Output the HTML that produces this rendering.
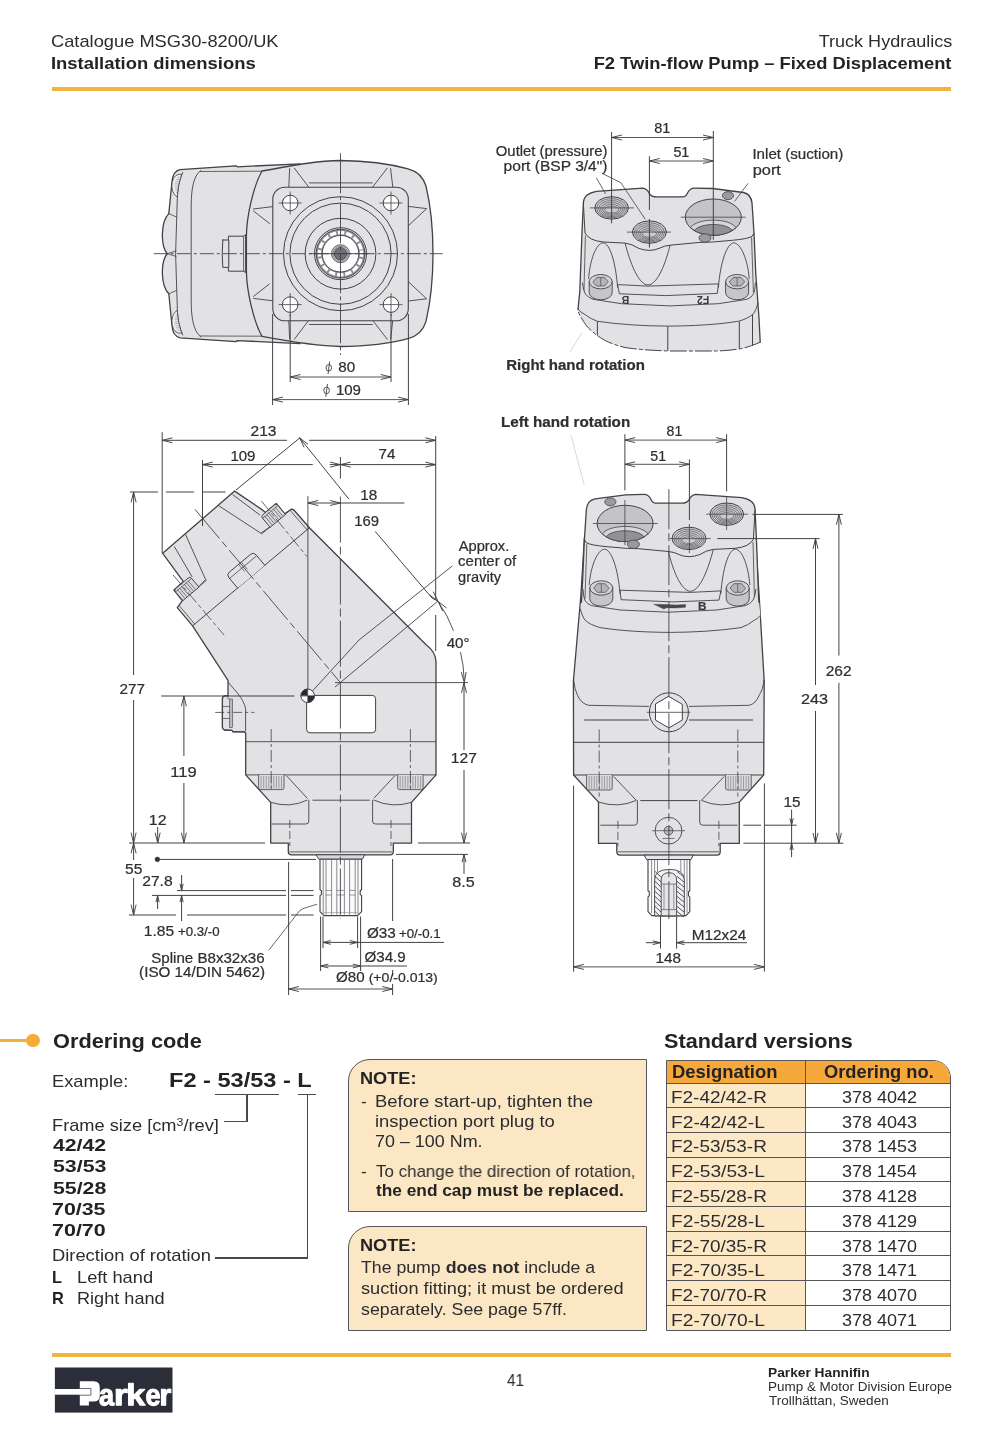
<!DOCTYPE html>
<html><head><meta charset="utf-8"><title>F2 Twin-flow Pump - Installation dimensions</title>
<style>
html,body{margin:0;padding:0;background:#fff;}
body{width:1000px;height:1452px;position:relative;overflow:hidden;font-family:"Liberation Sans",sans-serif;color:#2c2c2f;}
.t{position:absolute;white-space:nowrap;line-height:1;will-change:transform;}
.b{font-weight:bold;color:#232326;}
.rule{position:absolute;left:52px;width:899px;height:4px;background:#efb540;}
#draw{position:absolute;left:0;top:0;will-change:transform;}
.ln{position:absolute;background:#4a4a4d;}
.note{position:absolute;background:#fbe7c4;border:1.5px solid #55555a;border-radius:22px 0 0 0;box-sizing:border-box;}
</style></head><body>
<!-- HEADER -->
<div class="t" style="top:33.47px;font-size:16.1px;left:51.37px;transform-origin:0 0;transform:scaleX(1.1355);">Catalogue MSG30-8200/UK</div>
<div class="t b" style="top:54.87px;font-size:16.1px;left:51.07px;transform-origin:0 0;transform:scaleX(1.1446);">Installation dimensions</div>
<div class="t" style="top:33.47px;font-size:16.1px;right:47.85px;transform-origin:100% 0;transform:scaleX(1.1197);">Truck Hydraulics</div>
<div class="t b" style="top:54.87px;font-size:16.1px;right:48.28px;transform-origin:100% 0;transform:scaleX(1.1378);">F2 Twin-flow Pump – Fixed Displacement</div>
<div class="rule" style="top:86.7px;"></div>
<svg id="draw" width="1000" height="1452" viewBox="0 0 1000 1452" font-family="Liberation Sans, sans-serif">
<g id="front-view">
<path d="M180 169.6 Q173 171 172 181.6 L168.8 213.6 C160.5 222 160.5 246 167.2 253.7 C160.5 261.4 160.5 285.4 168.8 293.8 L172 325.8 Q173 336.4 180 337.8 L236 341.6 L237.5 340.6 L300 343.6 L300 163.8 L237.5 166.8 L236 165.8 Z" fill="#e2e2e5" stroke="#424247" stroke-width="1.3" stroke-linejoin="round" stroke-linecap="round"/>
<path d="M262 171 C300 164 320 160.8 340.5 160.5 C365 160.8 392 164.5 408 168.8 Q422 172.5 426 186 C430.5 205 433 230 433 253.7 C433 277 430.5 302 426 321.4 Q422 335 408 338.6 C392 343 365 346.2 340.5 346.5 C320 346.2 300 343.5 262 336.4 C253 320 246.6 290 246.4 271 L246.4 236 C246.6 217 253 187 262 171 Z" fill="#e2e2e5" stroke="#424247" stroke-width="1.3" stroke-linejoin="round" stroke-linecap="round"/>
<path d="M182.7 172.4 C179 180 177.4 190 177.3 199.2 L175.6 253.7 L177.3 308.2 C177.4 317.4 179 327.4 182.7 335" fill="none" stroke="#424247" stroke-width="0.9" stroke-linejoin="round" stroke-linecap="round"/>
<path d="M200.8 170.5 C193 176 191.4 190 191.2 205 L191.2 302 C191.4 317 193 331 200.8 336.9" fill="none" stroke="#424247" stroke-width="0.9" stroke-linejoin="round" stroke-linecap="round"/>
<path d="M200 171.5 L262 171.2 M200 336 L262 336.2" fill="none" stroke="#424247" stroke-width="0.8" stroke-linejoin="round" stroke-linecap="round"/>
<path d="M168.8 213.6 L176.5 217 M168.8 293.8 L176.5 290.4 M167.2 253.7 L176 251 M167.2 253.7 L176 256.4" fill="none" stroke="#424247" stroke-width="0.8" stroke-linejoin="round" stroke-linecap="round"/>
<path d="M181.6 174.6 A7.2 11.2 0 0 0 177.2 197 Q178 184 181.6 174.6 Z" fill="#efeff1" stroke="#424247" stroke-width="0.8" stroke-linejoin="round" stroke-linecap="round"/>
<line x1="177.2" y1="177.3" x2="180.8" y2="177.3" stroke="#6a6a70" stroke-width="0.45"/>
<line x1="175.9" y1="179.5" x2="180.3" y2="179.5" stroke="#6a6a70" stroke-width="0.45"/>
<line x1="175.2" y1="181.6" x2="179.9" y2="181.6" stroke="#6a6a70" stroke-width="0.45"/>
<line x1="174.7" y1="183.8" x2="179.5" y2="183.8" stroke="#6a6a70" stroke-width="0.45"/>
<line x1="174.6" y1="185.9" x2="179.1" y2="185.9" stroke="#6a6a70" stroke-width="0.45"/>
<line x1="174.7" y1="188.1" x2="178.7" y2="188.1" stroke="#6a6a70" stroke-width="0.45"/>
<line x1="175.1" y1="190.2" x2="178.3" y2="190.2" stroke="#6a6a70" stroke-width="0.45"/>
<line x1="175.9" y1="192.4" x2="177.9" y2="192.4" stroke="#6a6a70" stroke-width="0.45"/>
<line x1="177.1" y1="194.5" x2="177.5" y2="194.5" stroke="#6a6a70" stroke-width="0.45"/>
<g transform="translate(0 507.4) scale(1 -1)"><path d="M181.6 174.6 A7.2 11.2 0 0 0 177.2 197 Q178 184 181.6 174.6 Z" fill="#efeff1" stroke="#424247" stroke-width="0.8" stroke-linejoin="round" stroke-linecap="round"/>
<line x1="177.2" y1="177.3" x2="180.8" y2="177.3" stroke="#6a6a70" stroke-width="0.45"/>
<line x1="175.9" y1="179.5" x2="180.3" y2="179.5" stroke="#6a6a70" stroke-width="0.45"/>
<line x1="175.2" y1="181.6" x2="179.9" y2="181.6" stroke="#6a6a70" stroke-width="0.45"/>
<line x1="174.7" y1="183.8" x2="179.5" y2="183.8" stroke="#6a6a70" stroke-width="0.45"/>
<line x1="174.6" y1="185.9" x2="179.1" y2="185.9" stroke="#6a6a70" stroke-width="0.45"/>
<line x1="174.7" y1="188.1" x2="178.7" y2="188.1" stroke="#6a6a70" stroke-width="0.45"/>
<line x1="175.1" y1="190.2" x2="178.3" y2="190.2" stroke="#6a6a70" stroke-width="0.45"/>
<line x1="175.9" y1="192.4" x2="177.9" y2="192.4" stroke="#6a6a70" stroke-width="0.45"/>
<line x1="177.1" y1="194.5" x2="177.5" y2="194.5" stroke="#6a6a70" stroke-width="0.45"/>
</g>
<path d="M228.8 236.2 L244 236.2 L245.6 234.5 L245.6 272.9 L244 271.2 L228.8 271.2 Z" fill="#e2e2e5" stroke="#424247" stroke-width="1.0" stroke-linejoin="round" stroke-linecap="round"/>
<path d="M222.8 240 L228.8 240 L228.8 267.4 L222.8 267.4 Q221.6 253.7 222.8 240 Z" fill="#e2e2e5" stroke="#424247" stroke-width="1.0" stroke-linejoin="round" stroke-linecap="round"/>
<line x1="243.6" y1="236.2" x2="243.6" y2="271.2" stroke="#424247" stroke-width="0.8"/>
<path d="M253.5 209 L272.8 206.6 M253.5 211 L269.5 223.5 M253.5 298.4 L272.8 300.8 M253.5 296.4 L269.5 283.9" fill="none" stroke="#424247" stroke-width="0.9" stroke-linejoin="round" stroke-linecap="round"/>
<path d="M408.3 206.4 L426.6 208.6 L408.3 225.8 M408.3 301 L426.6 298.8 L408.3 281.6" fill="none" stroke="#424247" stroke-width="0.9" stroke-linejoin="round" stroke-linecap="round"/>
<path d="M289.6 168.6 L288.8 187.2 M294.4 168.2 L308.8 187.2 M309.5 182.9 L372.3 182.9 M387.2 168.2 L372.5 187.2 M390.6 168.6 L392.8 187.2" fill="none" stroke="#424247" stroke-width="0.9" stroke-linejoin="round" stroke-linecap="round"/>
<path d="M289.6 338.8 L288.8 320.2 M294.4 339.2 L308.8 320.2 M309.5 324.5 L372.3 324.5 M387.2 339.2 L372.5 320.2 M390.6 338.8 L392.8 320.2" fill="none" stroke="#424247" stroke-width="0.9" stroke-linejoin="round" stroke-linecap="round"/>
<rect x="272.8" y="187.2" width="135.5" height="133.6" rx="12" ry="12" fill="#e2e2e5" stroke="#424247" stroke-width="1.1"/>
<circle cx="340.5" cy="253.7" r="57.0" fill="none" stroke="#424247" stroke-width="1.0"/>
<circle cx="340.5" cy="253.7" r="50.6" fill="none" stroke="#424247" stroke-width="1.0"/>
<circle cx="340.5" cy="253.7" r="35.4" fill="none" stroke="#424247" stroke-width="1.0"/>
<circle cx="340.5" cy="253.7" r="26.0" fill="#e6e6e9" stroke="#424247" stroke-width="1.0"/>
<circle cx="340.5" cy="253.7" r="24.4" fill="#8f8f95" stroke="#424247" stroke-width="0.9"/>
<circle cx="340.5" cy="253.7" r="21.1" fill="none" stroke="#ffffff" stroke-width="3.4" stroke-dasharray="6.3 1.986" transform="rotate(-8.5 340.5 253.7)"/>
<circle cx="340.5" cy="253.7" r="18.3" fill="#ffffff" stroke="#424247" stroke-width="0.9"/>
<circle cx="340.5" cy="253.7" r="9.0" fill="#d9d9dd" stroke="#424247" stroke-width="0.8"/>
<circle cx="340.5" cy="253.7" r="7.6" fill="#e9e9ec" stroke="#424247" stroke-width="0.6"/>
<circle cx="340.5" cy="253.7" r="6.3" fill="#707076" stroke="#424247" stroke-width="0.8"/>
<circle cx="290.2" cy="203.0" r="7.8" fill="#ffffff" stroke="#424247" stroke-width="1.0"/>
<line x1="278.7" y1="203.0" x2="301.7" y2="203.0" stroke="#424247" stroke-width="0.8"/>
<line x1="290.2" y1="191.5" x2="290.2" y2="214.5" stroke="#424247" stroke-width="0.8"/>
<circle cx="391.0" cy="203.0" r="7.8" fill="#ffffff" stroke="#424247" stroke-width="1.0"/>
<line x1="379.5" y1="203.0" x2="402.5" y2="203.0" stroke="#424247" stroke-width="0.8"/>
<line x1="391.0" y1="191.5" x2="391.0" y2="214.5" stroke="#424247" stroke-width="0.8"/>
<circle cx="290.2" cy="304.6" r="7.8" fill="#ffffff" stroke="#424247" stroke-width="1.0"/>
<line x1="278.7" y1="304.6" x2="301.7" y2="304.6" stroke="#424247" stroke-width="0.8"/>
<line x1="290.2" y1="293.1" x2="290.2" y2="316.1" stroke="#424247" stroke-width="0.8"/>
<circle cx="391.0" cy="304.6" r="7.8" fill="#ffffff" stroke="#424247" stroke-width="1.0"/>
<line x1="379.5" y1="304.6" x2="402.5" y2="304.6" stroke="#424247" stroke-width="0.8"/>
<line x1="391.0" y1="293.1" x2="391.0" y2="316.1" stroke="#424247" stroke-width="0.8"/>
<line x1="153.8" y1="253.7" x2="442.6" y2="253.7" stroke="#424247" stroke-width="0.9" stroke-dasharray="14 3 3 3"/>
<line x1="309.5" y1="253.7" x2="368.5" y2="253.7" stroke="#424247" stroke-width="0.9"/>
<line x1="340.5" y1="153.3" x2="340.5" y2="355.0" stroke="#424247" stroke-width="0.9" stroke-dasharray="40 3 4 3"/>
<line x1="272.6" y1="314.0" x2="272.6" y2="405.0" stroke="#424247" stroke-width="1.0"/>
<line x1="408.4" y1="314.0" x2="408.4" y2="405.0" stroke="#424247" stroke-width="1.0"/>
<line x1="290.2" y1="314.0" x2="290.2" y2="382.0" stroke="#424247" stroke-width="1.0"/>
<line x1="391.0" y1="314.0" x2="391.0" y2="382.0" stroke="#424247" stroke-width="1.0"/>
<line x1="290.2" y1="377.0" x2="391.0" y2="377.0" stroke="#424247" stroke-width="0.9"/>
<path d="M290.2 377.0L300.5 374.5M290.2 377.0L300.5 379.5" fill="none" stroke="#424247" stroke-width="0.95"/>
<path d="M391.0 377.0L380.7 379.5M391.0 377.0L380.7 374.5" fill="none" stroke="#424247" stroke-width="0.95"/>
<line x1="272.6" y1="399.6" x2="408.4" y2="399.6" stroke="#424247" stroke-width="0.9"/>
<path d="M272.6 399.6L282.9 397.1M272.6 399.6L282.9 402.1" fill="none" stroke="#424247" stroke-width="0.95"/>
<path d="M408.4 399.6L398.1 402.1M408.4 399.6L398.1 397.1" fill="none" stroke="#424247" stroke-width="0.95"/>
<ellipse cx="328.8" cy="367.79999999999995" rx="2.8" ry="3.3" fill="none" stroke="#424247" stroke-width="0.9"/>
<line x1="328.0" y1="374.2" x2="329.7" y2="361.4" stroke="#424247" stroke-width="0.9"/>
<text x="338.3" y="372.4" font-size="14.2" textLength="16.9" lengthAdjust="spacingAndGlyphs" fill="#2f2f32" stroke="#2f2f32" stroke-width="0.22">80</text>
<ellipse cx="326.6" cy="390.4" rx="2.8" ry="3.3" fill="none" stroke="#424247" stroke-width="0.9"/>
<line x1="325.8" y1="396.8" x2="327.5" y2="384.0" stroke="#424247" stroke-width="0.9"/>
<text x="335.9" y="395.0" font-size="14.2" textLength="25.1" lengthAdjust="spacingAndGlyphs" fill="#2f2f32" stroke="#2f2f32" stroke-width="0.22">109</text>
</g>
<g id="rh-view">
<path d="M578 309.2 L579.8 291.6 L582 232 L583.4 202.4 Q584 193.6 596.6 191.4 L642.8 188.1 Q647 188.4 649.4 193.6 Q651.5 196.9 656.5 196.9 L683 196.9 Q686 196.6 687.8 192.5 Q690 188.1 694.5 188.1 L712.6 188.5 L743.4 192.5 Q751 194 752 203 L754 233.2 L755.8 274 L759 318 L760.2 342.2 C750 346.8 742 348.6 740.4 348.8 C730 350.4 720 351 714 351 L670 351 C650 350.4 636 349.2 626 347.7 C612 344.5 604 340.5 597.4 335.6 C590 330 586 326 584.2 322.4 C580.5 317 578.2 313 578 309.2Z" fill="#e2e2e5" stroke="none" stroke-width="0" stroke-linejoin="round" stroke-linecap="round"/>
<path d="M578 309.2 L579.8 291.6 L582 232 L583.4 202.4 Q584 193.6 596.6 191.4 L642.8 188.1 Q647 188.4 649.4 193.6 Q651.5 196.9 656.5 196.9 L683 196.9 Q686 196.6 687.8 192.5 Q690 188.1 694.5 188.1 L712.6 188.5 L743.4 192.5 Q751 194 752 203 L754 233.2 L755.8 274 L759 318 L760.2 342.2" fill="none" stroke="#424247" stroke-width="1.3" stroke-linejoin="round" stroke-linecap="round"/>
<path d="M760.2 342.2 C750 346.8 742 348.6 740.4 348.8 C730 350.4 720 351 714 351 L670 351 C650 350.4 636 349.2 626 347.7 C612 344.5 604 340.5 597.4 335.6 C590 330 586 326 584.2 322.4 C580.5 317 578.2 313 578 309.2" fill="none" stroke="#424247" stroke-width="1.0" stroke-linejoin="round" stroke-linecap="round" stroke-dasharray="16 3 3 3"/>
<path d="M583.4 204 L585 233 Q589 240.6 603.2 242 L625.2 243.1 Q632 244 638.4 248.2 Q644 250.4 649.4 250.4 Q655 250.4 660 248 Q664 245.8 670 245.2 L700 242.4 L712.6 242 L732.4 240.3 Q747 239 752 236.5 L754 233.2" fill="none" stroke="#424247" stroke-width="1.0" stroke-linejoin="round" stroke-linecap="round"/>
<path d="M585.4 236 L584 290 M751.6 238 L753.4 292" fill="none" stroke="#424247" stroke-width="0.8" stroke-linejoin="round" stroke-linecap="round"/>
<path d="M588.6 278.4 C590 260 596 243.4 603 242.8 C610 243.4 615.6 262 617.6 287.2" fill="none" stroke="#424247" stroke-width="0.9" stroke-linejoin="round" stroke-linecap="round"/>
<path d="M749.2 278.4 C747.8 260 741 243.4 733.8 242.8 C727 243.4 720.4 262 718.4 287.2" fill="none" stroke="#424247" stroke-width="0.9" stroke-linejoin="round" stroke-linecap="round"/>
<path d="M625.2 243.6 C630 262 638 284.4 648 285 C658 284.4 666 262 670 245.4" fill="none" stroke="#424247" stroke-width="0.9" stroke-linejoin="round" stroke-linecap="round"/>
<path d="M617.6 284.6 L648 286.1 L718.4 283.9" fill="none" stroke="#424247" stroke-width="0.9" stroke-linejoin="round" stroke-linecap="round"/>
<path d="M617.6 285 L619.4 293.8 L665.6 295.6 L717.3 293.4 L718.4 284.4" fill="none" stroke="#424247" stroke-width="0.9" stroke-linejoin="round" stroke-linecap="round"/>
<path d="M582.4 283 Q583.4 290.5 585.3 293.8 Q588 297.6 593 299.3 L621.6 303.7 L670 305.9 L718.4 303.7 L747 299.3 Q751.6 297.6 753.6 293.8 Q755 290.5 755.4 283" fill="none" stroke="#424247" stroke-width="0.9" stroke-linejoin="round" stroke-linecap="round"/>
<path d="M578 309.2 Q580.6 312.5 585.3 314.7 Q590 318.6 597.4 321.3 C620 324.6 645 326 667.8 326.1 C692 326 718 324.6 738.2 321.3 Q748.5 318.6 753.6 313.6 Q756.5 309.5 758 303" fill="none" stroke="#424247" stroke-width="0.9" stroke-linejoin="round" stroke-linecap="round"/>
<path d="M589.2 281.7 L589.2 292.6 A11.5 7.2 0 0 0 612.2 292.6 L612.2 281.7" fill="#c6c6ca" stroke="#424247" stroke-width="0.9" stroke-linejoin="round" stroke-linecap="round"/>
<ellipse cx="600.7" cy="281.7" rx="11.5" ry="7.2" fill="#d3d3d7" stroke="#424247" stroke-width="0.9"/>
<path d="M593.1 281.7 L596.8000000000001 277.4 L604.6 277.4 L608.3000000000001 281.7 L604.6 286 L596.8000000000001 286 Z" fill="#b4b4b9" stroke="#424247" stroke-width="0.7" stroke-linejoin="round" stroke-linecap="round"/>
<line x1="600.7" y1="277.4" x2="600.7" y2="286.0" stroke="#424247" stroke-width="0.6"/>
<path d="M725.6 281.7 L725.6 292.6 A11.5 7.2 0 0 0 748.6 292.6 L748.6 281.7" fill="#c6c6ca" stroke="#424247" stroke-width="0.9" stroke-linejoin="round" stroke-linecap="round"/>
<ellipse cx="737.1" cy="281.7" rx="11.5" ry="7.2" fill="#d3d3d7" stroke="#424247" stroke-width="0.9"/>
<path d="M729.5 281.7 L733.2 277.4 L741.0 277.4 L744.7 281.7 L741.0 286 L733.2 286 Z" fill="#b4b4b9" stroke="#424247" stroke-width="0.7" stroke-linejoin="round" stroke-linecap="round"/>
<line x1="737.1" y1="277.4" x2="737.1" y2="286.0" stroke="#424247" stroke-width="0.6"/>
<ellipse cx="611.6" cy="207.9" rx="16.8" ry="11.2" fill="#cbcbcf" stroke="#424247" stroke-width="1.0"/>
<ellipse cx="611.6" cy="208.24" rx="14.9" ry="9.6" fill="none" stroke="#5a5a5f" stroke-width="0.7"/>
<ellipse cx="611.6" cy="208.59" rx="12.9" ry="8.1" fill="none" stroke="#5a5a5f" stroke-width="0.7"/>
<ellipse cx="611.6" cy="208.93" rx="11.0" ry="6.5" fill="none" stroke="#5a5a5f" stroke-width="0.7"/>
<ellipse cx="611.6" cy="209.28" rx="9.1" ry="4.9" fill="none" stroke="#5a5a5f" stroke-width="0.7"/>
<ellipse cx="611.6" cy="209.62" rx="7.1" ry="3.4" fill="none" stroke="#5a5a5f" stroke-width="0.7"/>
<ellipse cx="649.4" cy="232.1" rx="17" ry="11.2" fill="#cbcbcf" stroke="#424247" stroke-width="1.0"/>
<ellipse cx="649.4" cy="232.44" rx="15.0" ry="9.6" fill="none" stroke="#5a5a5f" stroke-width="0.7"/>
<ellipse cx="649.4" cy="232.79" rx="13.1" ry="8.1" fill="none" stroke="#5a5a5f" stroke-width="0.7"/>
<ellipse cx="649.4" cy="233.13" rx="11.1" ry="6.5" fill="none" stroke="#5a5a5f" stroke-width="0.7"/>
<ellipse cx="649.4" cy="233.48" rx="9.2" ry="4.9" fill="none" stroke="#5a5a5f" stroke-width="0.7"/>
<ellipse cx="649.4" cy="233.82" rx="7.2" ry="3.4" fill="none" stroke="#5a5a5f" stroke-width="0.7"/>
<ellipse cx="713.3" cy="217.2" rx="28" ry="18.2" fill="#c3c3c8" stroke="#424247" stroke-width="1.0"/>
<path d="M690.4 227.6 C697 217.6 729 217.6 736 227.6 A28 18.2 0 0 1 690.4 227.6 Z" fill="#d6d6da" stroke="#424247" stroke-width="0.8" stroke-linejoin="round" stroke-linecap="round"/>
<path d="M694.2 230.5 C700 222.4 726.5 222.4 732.3 230.5 A28 18.2 0 0 1 694.2 230.5 Z" fill="#919197" stroke="#424247" stroke-width="0.8" stroke-linejoin="round" stroke-linecap="round"/>
<ellipse cx="728" cy="195.6" rx="5.6" ry="4" fill="#9a9aa0" stroke="#424247" stroke-width="0.8"/>
<ellipse cx="705" cy="238" rx="6" ry="4.2" fill="#9a9aa0" stroke="#424247" stroke-width="0.8"/>
<line x1="597.4" y1="321.3" x2="597.4" y2="335.6" stroke="#424247" stroke-width="1.0"/>
<line x1="667.8" y1="326.1" x2="667.8" y2="350.6" stroke="#424247" stroke-width="1.0"/>
<line x1="739.3" y1="321.3" x2="739.3" y2="348.8" stroke="#424247" stroke-width="1.0"/>
<line x1="752.5" y1="314.5" x2="752.5" y2="345.6" stroke="#424247" stroke-width="1.0"/>
<line x1="590.0" y1="207.9" x2="634.0" y2="207.9" stroke="#424247" stroke-width="0.8"/>
<line x1="627.0" y1="232.1" x2="671.0" y2="232.1" stroke="#424247" stroke-width="0.8"/>
<line x1="680.7" y1="217.2" x2="745.6" y2="217.2" stroke="#424247" stroke-width="0.8"/>
<text x="625.4" y="303.8" font-size="10.5" font-weight="bold" fill="#3a3a3e" text-anchor="middle" transform="rotate(180 625.4 299.9)">B</text>
<text x="703" y="303.8" font-size="10.5" font-weight="bold" fill="#3a3a3e" text-anchor="middle" transform="rotate(180 703 299.9)">F2</text>
<line x1="611.6" y1="132.0" x2="611.6" y2="223.3" stroke="#424247" stroke-width="1.0"/>
<line x1="649.4" y1="156.2" x2="649.4" y2="210.0" stroke="#424247" stroke-width="1.0"/>
<line x1="649.4" y1="219.0" x2="649.4" y2="247.5" stroke="#424247" stroke-width="1.0"/>
<line x1="713.3" y1="131.0" x2="713.3" y2="239.8" stroke="#424247" stroke-width="1.0"/>
<line x1="611.6" y1="137.5" x2="713.3" y2="137.5" stroke="#424247" stroke-width="0.9"/>
<path d="M611.6 137.5L621.9 135.0M611.6 137.5L621.9 140.0" fill="none" stroke="#424247" stroke-width="0.95"/>
<path d="M713.3 137.5L703.0 140.0M713.3 137.5L703.0 135.0" fill="none" stroke="#424247" stroke-width="0.95"/>
<line x1="649.4" y1="161.0" x2="713.3" y2="161.0" stroke="#424247" stroke-width="0.9"/>
<path d="M649.4 161.0L659.7 158.5M649.4 161.0L659.7 163.5" fill="none" stroke="#424247" stroke-width="0.95"/>
<path d="M713.3 161.0L703.0 163.5M713.3 161.0L703.0 158.5" fill="none" stroke="#424247" stroke-width="0.95"/>
<text x="654.3" y="133.1" font-size="14.2" textLength="16.1" lengthAdjust="spacingAndGlyphs" fill="#2f2f32" stroke="#2f2f32" stroke-width="0.22">81</text>
<text x="673.4" y="157.3" font-size="14.2" textLength="15.9" lengthAdjust="spacingAndGlyphs" fill="#2f2f32" stroke="#2f2f32" stroke-width="0.22">51</text>
<path d="M596.6 178.2 L605.4 193.6 M602.1 173.4 L620.8 182.6 L645 218.9 M747.8 183.7 L734.6 201.3" fill="none" stroke="#424247" stroke-width="0.8" stroke-linejoin="round" stroke-linecap="round"/>
<line x1="582.0" y1="332.3" x2="570.0" y2="352.0" stroke="#c9c9cc" stroke-width="0.7"/>
<text x="495.8" y="155.8" font-size="14.2" textLength="111.6" lengthAdjust="spacingAndGlyphs" fill="#2f2f32" stroke="#2f2f32" stroke-width="0.22">Outlet (pressure)</text>
<text x="503.6" y="171.2" font-size="14.2" textLength="103.9" lengthAdjust="spacingAndGlyphs" fill="#2f2f32" stroke="#2f2f32" stroke-width="0.22">port (BSP 3/4&quot;)</text>
<text x="752.4" y="158.8" font-size="14.2" textLength="90.9" lengthAdjust="spacingAndGlyphs" fill="#2f2f32" stroke="#2f2f32" stroke-width="0.22">Inlet (suction)</text>
<text x="752.7" y="174.5" font-size="14.2" textLength="28.2" lengthAdjust="spacingAndGlyphs" fill="#2f2f32" stroke="#2f2f32" stroke-width="0.22">port</text>
<text x="506.2" y="369.7" font-size="14.4" font-weight="bold" textLength="138.7" lengthAdjust="spacingAndGlyphs" fill="#2f2f32" stroke="#2f2f32" stroke-width="0.22">Right hand rotation</text>
</g>
<g id="side-view">
<path d="M162.7 553.3L234.6 491.1L262.4 509.9L265.5 512.4L276.2 503.4L284.9 513.8L289.8 510.3Q291.9 508.2 294.3 510.5L309.4 527.8L426.1 644.7Q436 652 436 662 L436 774.9 L411.5 802.4 L411.5 843.1 L393.3 843.1 L393.3 851.5 Q393.3 854.8 390 854.8 L291.6 854.8 Q288.3 854.8 288.3 851.5 L288.3 843.1 L270.7 843.1 L270.7 802.4 L245.7 774.9 L245.7 733 L244 731.8 L232.8 731.8 L232 730.4 L224.2 730 Q222.4 729.4 222.4 727 L222.4 699 Q222.4 696.2 224.5 695.8 L228 695.6 L228 680.4 L192.6 625.8L177.3 607.6L182.4 600.6L173.9 590.0L183.4 581.6Z" fill="#e2e2e5" stroke="#424247" stroke-width="1.3" stroke-linejoin="round" stroke-linecap="round"/>
<path d="M316.4 854.8 L364.8 854.8 L362.4 859.2 L319.2 859.2 Z" fill="#d9d9dd" stroke="#424247" stroke-width="1.0" stroke-linejoin="round" stroke-linecap="round"/>
<path d="M320 859.2 L361.6 859.2 L361.6 889.8 L360.2 890.8 L360.2 894.6 L361.6 895.6 L361.6 911.6 L357.6 915.6 L324 915.6 L320 911.6 L320 895.6 L321.4 894.6 L321.4 890.8 L320 889.8 Z" fill="#fbfbfc" stroke="#424247" stroke-width="1.1" stroke-linejoin="round" stroke-linecap="round"/>
<line x1="323.2" y1="859.8" x2="323.2" y2="914.6" stroke="#6c6c72" stroke-width="0.8"/>
<line x1="326.0" y1="859.8" x2="326.0" y2="914.6" stroke="#6c6c72" stroke-width="0.8"/>
<line x1="331.6" y1="859.8" x2="331.6" y2="914.6" stroke="#6c6c72" stroke-width="0.8"/>
<line x1="336.8" y1="859.8" x2="336.8" y2="914.6" stroke="#6c6c72" stroke-width="0.8"/>
<line x1="344.4" y1="859.8" x2="344.4" y2="914.6" stroke="#6c6c72" stroke-width="0.8"/>
<line x1="349.6" y1="859.8" x2="349.6" y2="914.6" stroke="#6c6c72" stroke-width="0.8"/>
<line x1="355.2" y1="859.8" x2="355.2" y2="914.6" stroke="#6c6c72" stroke-width="0.8"/>
<line x1="358.0" y1="859.8" x2="358.0" y2="914.6" stroke="#6c6c72" stroke-width="0.8"/>
<line x1="326.0" y1="890.4" x2="331.6" y2="890.4" stroke="#6c6c72" stroke-width="0.7"/>
<line x1="326.0" y1="895.0" x2="331.6" y2="895.0" stroke="#6c6c72" stroke-width="0.7"/>
<line x1="336.8" y1="890.4" x2="344.4" y2="890.4" stroke="#6c6c72" stroke-width="0.7"/>
<line x1="336.8" y1="895.0" x2="344.4" y2="895.0" stroke="#6c6c72" stroke-width="0.7"/>
<line x1="349.6" y1="890.4" x2="355.2" y2="890.4" stroke="#6c6c72" stroke-width="0.7"/>
<line x1="349.6" y1="895.0" x2="355.2" y2="895.0" stroke="#6c6c72" stroke-width="0.7"/>
<line x1="324.0" y1="912.6" x2="357.6" y2="912.6" stroke="#8a8a90" stroke-width="0.6"/>
<line x1="289.5" y1="851.9" x2="392.0" y2="851.9" stroke="#424247" stroke-width="0.8"/>
<path d="M232.9 494.8L259.6 514.8" fill="none" stroke="#424247" stroke-width="0.9" stroke-linejoin="round" stroke-linecap="round"/>
<path d="M219.2 506.0L260.8 533.2L269.7 527.2" fill="none" stroke="#424247" stroke-width="0.9" stroke-linejoin="round" stroke-linecap="round"/>
<path d="M185.7 534.8L205.6 579.5L199.4 586.2" fill="none" stroke="#424247" stroke-width="0.9" stroke-linejoin="round" stroke-linecap="round"/>
<path d="M174.5 546.8L192.0 576.7" fill="none" stroke="#424247" stroke-width="0.9" stroke-linejoin="round" stroke-linecap="round"/>
<path d="M261.5 534.0L269.9 527.0M285.2 514.2L289.8 510.3" fill="none" stroke="#424247" stroke-width="0.9" stroke-linejoin="round" stroke-linecap="round"/>
<path d="M206.3 580.4L199.4 586.2" fill="none" stroke="#424247" stroke-width="0.9" stroke-linejoin="round" stroke-linecap="round"/>
<path d="M290.6 510.9L307.0 529.8" fill="none" stroke="#424247" stroke-width="0.8" stroke-linejoin="round" stroke-linecap="round"/>
<path d="M179.6 606.1L194.7 624.1" fill="none" stroke="#424247" stroke-width="0.8" stroke-linejoin="round" stroke-linecap="round"/>
<path d="M192.6 625.8L309.4 527.8" fill="none" stroke="#424247" stroke-width="1.0" stroke-linejoin="round" stroke-linecap="round"/>
<path d="M237.6 588.1L228.9 577.7Q226.3 574.7 229.4 572.1L250.5 554.4Q253.5 551.9 256.1 554.9L264.8 565.3" fill="#e2e2e5" stroke="#424247" stroke-width="1.0" stroke-linejoin="round" stroke-linecap="round"/>
<path d="M230.3 577.9L256.0 556.3" fill="none" stroke="#424247" stroke-width="0.8" stroke-linejoin="round" stroke-linecap="round"/>
<path d="M244.4 571.3L238.6 564.4M247.1 569.0L241.3 562.1" fill="none" stroke="#424247" stroke-width="0.7" stroke-linejoin="round" stroke-linecap="round"/>
<path d="M269.9 527.0L262.5 518.2Q260.9 516.3 262.8 514.7L274.3 505.1Q276.2 503.4 277.8 505.4L285.2 514.2Z" fill="#dadade" stroke="#424247" stroke-width="1.0" stroke-linejoin="round" stroke-linecap="round"/>
<path d="M271.9 524.7L264.9 516.4" fill="none" stroke="#424247" stroke-width="0.65" stroke-linejoin="round" stroke-linecap="round"/>
<path d="M273.9 523.0L266.9 514.7" fill="none" stroke="#424247" stroke-width="0.65" stroke-linejoin="round" stroke-linecap="round"/>
<path d="M275.9 521.4L268.8 513.0" fill="none" stroke="#424247" stroke-width="0.65" stroke-linejoin="round" stroke-linecap="round"/>
<path d="M278.4 519.2L271.4 510.9" fill="none" stroke="#424247" stroke-width="0.65" stroke-linejoin="round" stroke-linecap="round"/>
<path d="M280.5 517.5L273.4 509.2" fill="none" stroke="#424247" stroke-width="0.65" stroke-linejoin="round" stroke-linecap="round"/>
<path d="M282.4 515.8L275.4 507.5" fill="none" stroke="#424247" stroke-width="0.65" stroke-linejoin="round" stroke-linecap="round"/>
<path d="M263.2 517.8L277.3 506.0" fill="none" stroke="#424247" stroke-width="0.7" stroke-linejoin="round" stroke-linecap="round"/>
<path d="M182.6 600.3L175.5 591.9Q173.9 590.0 175.8 588.4L188.1 578.1Q190.0 576.5 191.6 578.4L198.7 586.8Z" fill="#dadade" stroke="#424247" stroke-width="1.0" stroke-linejoin="round" stroke-linecap="round"/>
<path d="M184.5 598.0L177.9 590.0" fill="none" stroke="#424247" stroke-width="0.65" stroke-linejoin="round" stroke-linecap="round"/>
<path d="M186.5 596.3L179.9 588.4" fill="none" stroke="#424247" stroke-width="0.65" stroke-linejoin="round" stroke-linecap="round"/>
<path d="M188.5 594.6L181.8 586.7" fill="none" stroke="#424247" stroke-width="0.65" stroke-linejoin="round" stroke-linecap="round"/>
<path d="M191.1 592.5L184.4 584.6" fill="none" stroke="#424247" stroke-width="0.65" stroke-linejoin="round" stroke-linecap="round"/>
<path d="M193.1 590.8L186.4 582.8" fill="none" stroke="#424247" stroke-width="0.65" stroke-linejoin="round" stroke-linecap="round"/>
<path d="M195.1 589.1L188.4 581.2" fill="none" stroke="#424247" stroke-width="0.65" stroke-linejoin="round" stroke-linecap="round"/>
<path d="M176.2 591.4L191.0 579.0" fill="none" stroke="#424247" stroke-width="0.7" stroke-linejoin="round" stroke-linecap="round"/>
<path d="M228 695.6 L224.5 695.8 Q222.4 696.2 222.4 699 L222.4 727 Q222.4 729.4 224.2 730 L232 730.4 L232.8 731.8 L244 731.8 L245.7 733" fill="none" stroke="#424247" stroke-width="1.0" stroke-linejoin="round" stroke-linecap="round"/>
<path d="M228.8 682.8 C234 690 243 697 245.6 708.4 L245.6 731" fill="none" stroke="#424247" stroke-width="0.9" stroke-linejoin="round" stroke-linecap="round"/>
<rect x="229.4" y="699" width="3.2" height="28.6" fill="#b9b9be" stroke="#424247" stroke-width="0.6"/>
<path d="M222.6 706.5 L229.2 706.5 M222.6 718.5 L229.2 718.5 M228 695.6 L228 699" fill="none" stroke="#424247" stroke-width="0.7" stroke-linejoin="round" stroke-linecap="round"/>
<line x1="215.2" y1="712.4" x2="254.4" y2="712.4" stroke="#424247" stroke-width="0.8" stroke-dasharray="9 3 3 3"/>
<line x1="245.7" y1="741.7" x2="436.0" y2="741.7" stroke="#424247" stroke-width="0.9"/>
<line x1="245.7" y1="774.9" x2="436.0" y2="774.9" stroke="#424247" stroke-width="0.9"/>
<path d="M258.6 774.9 L258.6 787.5 Q258.6 789.6 260.6 789.6 L282.0 789.6 Q284.0 789.6 284.0 787.5 L284.0 774.9" fill="#dcdce0" stroke="#424247" stroke-width="0.8" stroke-linejoin="round" stroke-linecap="round"/>
<line x1="261.1" y1="776.0" x2="261.1" y2="788.6" stroke="#66666c" stroke-width="0.55"/>
<line x1="263.7" y1="776.0" x2="263.7" y2="788.6" stroke="#66666c" stroke-width="0.55"/>
<line x1="266.2" y1="776.0" x2="266.2" y2="788.6" stroke="#66666c" stroke-width="0.55"/>
<line x1="268.8" y1="776.0" x2="268.8" y2="788.6" stroke="#66666c" stroke-width="0.55"/>
<line x1="271.3" y1="776.0" x2="271.3" y2="788.6" stroke="#66666c" stroke-width="0.55"/>
<line x1="273.8" y1="776.0" x2="273.8" y2="788.6" stroke="#66666c" stroke-width="0.55"/>
<line x1="276.4" y1="776.0" x2="276.4" y2="788.6" stroke="#66666c" stroke-width="0.55"/>
<line x1="278.9" y1="776.0" x2="278.9" y2="788.6" stroke="#66666c" stroke-width="0.55"/>
<line x1="281.5" y1="776.0" x2="281.5" y2="788.6" stroke="#66666c" stroke-width="0.55"/>
<path d="M397.7 774.9 L397.7 787.5 Q397.7 789.6 399.7 789.6 L421.09999999999997 789.6 Q423.09999999999997 789.6 423.09999999999997 787.5 L423.09999999999997 774.9" fill="#dcdce0" stroke="#424247" stroke-width="0.8" stroke-linejoin="round" stroke-linecap="round"/>
<line x1="400.2" y1="776.0" x2="400.2" y2="788.6" stroke="#66666c" stroke-width="0.55"/>
<line x1="402.8" y1="776.0" x2="402.8" y2="788.6" stroke="#66666c" stroke-width="0.55"/>
<line x1="405.3" y1="776.0" x2="405.3" y2="788.6" stroke="#66666c" stroke-width="0.55"/>
<line x1="407.9" y1="776.0" x2="407.9" y2="788.6" stroke="#66666c" stroke-width="0.55"/>
<line x1="410.4" y1="776.0" x2="410.4" y2="788.6" stroke="#66666c" stroke-width="0.55"/>
<line x1="412.9" y1="776.0" x2="412.9" y2="788.6" stroke="#66666c" stroke-width="0.55"/>
<line x1="415.5" y1="776.0" x2="415.5" y2="788.6" stroke="#66666c" stroke-width="0.55"/>
<line x1="418.0" y1="776.0" x2="418.0" y2="788.6" stroke="#66666c" stroke-width="0.55"/>
<line x1="420.6" y1="776.0" x2="420.6" y2="788.6" stroke="#66666c" stroke-width="0.55"/>
<path d="M286.8 776 L307 798 M394.6 776 L374.1 798" fill="none" stroke="#424247" stroke-width="0.9" stroke-linejoin="round" stroke-linecap="round"/>
<path d="M270.7 802.4 Q290 808.5 307 800.2 M411.5 802.4 Q392 808.5 374.1 800.2" fill="none" stroke="#424247" stroke-width="0.9" stroke-linejoin="round" stroke-linecap="round"/>
<path d="M308.8 800.2 L308.8 821 Q308.8 824 305.8 824 L271.8 824 M372.6 800.2 L372.6 821 Q372.6 824 375.6 824 L410.4 824" fill="none" stroke="#424247" stroke-width="0.9" stroke-linejoin="round" stroke-linecap="round"/>
<line x1="312.5" y1="800.2" x2="369.7" y2="800.2" stroke="#424247" stroke-width="0.9"/>
<line x1="271.2" y1="729.0" x2="271.2" y2="792.0" stroke="#424247" stroke-width="0.8" stroke-dasharray="12 3 3 3"/>
<line x1="410.4" y1="729.0" x2="410.4" y2="792.0" stroke="#424247" stroke-width="0.8" stroke-dasharray="12 3 3 3"/>
<line x1="289.8" y1="820.0" x2="289.8" y2="846.0" stroke="#424247" stroke-width="0.8" stroke-dasharray="8 3"/>
<line x1="391.0" y1="820.0" x2="391.0" y2="846.0" stroke="#424247" stroke-width="0.8" stroke-dasharray="8 3"/>
<rect x="306.6" y="695.4" width="69" height="37.4" rx="3.4" fill="#ffffff" stroke="#424247" stroke-width="1.0"/>
<line x1="195.1" y1="509.5" x2="340.4" y2="682.6" stroke="#424247" stroke-width="0.9" stroke-dasharray="38 4 7 4"/>
<line x1="261.3" y1="500.9" x2="307.0" y2="556.6" stroke="#424247" stroke-width="0.8" stroke-dasharray="13 3 4 3"/>
<line x1="173.1" y1="575.0" x2="224.2" y2="635.2" stroke="#424247" stroke-width="0.8" stroke-dasharray="13 3 4 3"/>
<line x1="340.4" y1="496.6" x2="340.4" y2="919.0" stroke="#424247" stroke-width="0.9" stroke-dasharray="46 4 8 4"/>
<line x1="340.4" y1="457.0" x2="340.4" y2="478.6" stroke="#424247" stroke-width="1.0"/>
<line x1="307.9" y1="496.0" x2="307.9" y2="690.0" stroke="#424247" stroke-width="0.9"/>
<circle cx="307.7" cy="695.8" r="6.8" fill="#ffffff" stroke="#424247" stroke-width="1.0"/>
<path d="M307.7 695.8 L307.7 689 A6.8 6.8 0 0 0 300.9 695.8 Z M307.7 695.8 L307.7 702.6 A6.8 6.8 0 0 0 314.5 695.8 Z" fill="#2a2a2e" stroke="#424247" stroke-width="0.5" stroke-linejoin="round" stroke-linecap="round"/>
<path d="M312.5 691 L359 640 L452 566.2" fill="none" stroke="#424247" stroke-width="0.9" stroke-linejoin="round" stroke-linecap="round"/>
<line x1="335.0" y1="687.0" x2="438.0" y2="601.0" stroke="#424247" stroke-width="0.9"/>
<line x1="335.0" y1="682.6" x2="468.0" y2="682.6" stroke="#424247" stroke-width="0.9"/>
<path d="M438.8 602.5 A126 126 0 0 1 453.4 630.5" fill="none" stroke="#424247" stroke-width="0.9" stroke-linejoin="round" stroke-linecap="round"/>
<path d="M460.6 652.5 A126 126 0 0 1 464.2 680" fill="none" stroke="#424247" stroke-width="0.9" stroke-linejoin="round" stroke-linecap="round"/>
<path d="M438.2 601.4L446.5 608.0M438.2 601.4L442.6 611.0" fill="none" stroke="#424247" stroke-width="0.95"/>
<path d="M464.3 682.4L461.3 672.2M464.3 682.4L466.2 672.0" fill="none" stroke="#424247" stroke-width="0.95"/>
<text x="446.7" y="648.0" font-size="14.2" textLength="22.9" lengthAdjust="spacingAndGlyphs" fill="#2f2f32" stroke="#2f2f32" stroke-width="0.22">40°</text>
<line x1="162.2" y1="432.2" x2="162.2" y2="553.6" stroke="#424247" stroke-width="1.0"/>
<line x1="435.7" y1="436.0" x2="435.7" y2="600.0" stroke="#424247" stroke-width="1.0"/>
<line x1="435.7" y1="615.0" x2="435.7" y2="651.0" stroke="#424247" stroke-width="1.0"/>
<line x1="162.2" y1="440.3" x2="287.0" y2="440.3" stroke="#424247" stroke-width="1.0"/>
<line x1="309.2" y1="440.3" x2="435.7" y2="440.3" stroke="#424247" stroke-width="1.0"/>
<path d="M162.2 440.3L172.5 437.8M162.2 440.3L172.5 442.8" fill="none" stroke="#424247" stroke-width="0.95"/>
<path d="M435.7 440.3L425.4 442.8M435.7 440.3L425.4 437.8" fill="none" stroke="#424247" stroke-width="0.95"/>
<text x="250.6" y="436.3" font-size="14.2" textLength="25.9" lengthAdjust="spacingAndGlyphs" fill="#2f2f32" stroke="#2f2f32" stroke-width="0.22">213</text>
<line x1="202.5" y1="460.0" x2="202.5" y2="526.0" stroke="#424247" stroke-width="1.0"/>
<line x1="202.5" y1="464.6" x2="312.8" y2="464.6" stroke="#424247" stroke-width="1.0"/>
<line x1="329.6" y1="464.6" x2="435.7" y2="464.6" stroke="#424247" stroke-width="1.0"/>
<path d="M202.5 464.6L212.8 462.1M202.5 464.6L212.8 467.1" fill="none" stroke="#424247" stroke-width="0.95"/>
<path d="M340.4 464.6L330.1 467.1M340.4 464.6L330.1 462.1" fill="none" stroke="#424247" stroke-width="0.95"/>
<path d="M340.4 464.6L350.7 462.1M340.4 464.6L350.7 467.1" fill="none" stroke="#424247" stroke-width="0.95"/>
<path d="M435.7 464.6L425.4 467.1M435.7 464.6L425.4 462.1" fill="none" stroke="#424247" stroke-width="0.95"/>
<text x="230.4" y="461.2" font-size="14.2" textLength="25.1" lengthAdjust="spacingAndGlyphs" fill="#2f2f32" stroke="#2f2f32" stroke-width="0.22">109</text>
<text x="378.5" y="459.4" font-size="14.2" textLength="16.8" lengthAdjust="spacingAndGlyphs" fill="#2f2f32" stroke="#2f2f32" stroke-width="0.22">74</text>
<line x1="236.0" y1="490.0" x2="300.2" y2="437.6" stroke="#424247" stroke-width="1.0"/>
<line x1="299.6" y1="437.8" x2="348.8" y2="499.0" stroke="#424247" stroke-width="1.0"/>
<path d="M299.6 437.8L308.0 444.3M299.6 437.8L304.1 447.4" fill="none" stroke="#424247" stroke-width="0.95"/>
<line x1="375.2" y1="531.4" x2="432.0" y2="598.0" stroke="#424247" stroke-width="1.0"/>
<path d="M438.0 601.2L429.5 594.9M438.0 601.2L433.3 591.7" fill="none" stroke="#424247" stroke-width="0.95"/>
<line x1="432.0" y1="598.0" x2="438.0" y2="601.2" stroke="#424247" stroke-width="1.0"/>
<text x="354.2" y="526.1" font-size="14.2" textLength="24.8" lengthAdjust="spacingAndGlyphs" fill="#2f2f32" stroke="#2f2f32" stroke-width="0.22">169</text>
<line x1="307.9" y1="503.0" x2="404.4" y2="503.0" stroke="#424247" stroke-width="1.0"/>
<path d="M307.9 503.0L318.2 500.5M307.9 503.0L318.2 505.5" fill="none" stroke="#424247" stroke-width="0.95"/>
<path d="M340.4 503.0L330.1 505.5M340.4 503.0L330.1 500.5" fill="none" stroke="#424247" stroke-width="0.95"/>
<text x="360.3" y="499.5" font-size="14.2" textLength="17.0" lengthAdjust="spacingAndGlyphs" fill="#2f2f32" stroke="#2f2f32" stroke-width="0.22">18</text>
<line x1="130.0" y1="492.0" x2="158.0" y2="492.0" stroke="#424247" stroke-width="1.0"/>
<line x1="166.0" y1="492.0" x2="194.0" y2="492.0" stroke="#424247" stroke-width="1.0"/>
<line x1="202.0" y1="492.0" x2="225.6" y2="492.0" stroke="#424247" stroke-width="1.0"/>
<line x1="133.6" y1="492.0" x2="133.6" y2="675.0" stroke="#424247" stroke-width="1.0"/>
<line x1="133.6" y1="700.0" x2="133.6" y2="843.0" stroke="#424247" stroke-width="1.0"/>
<path d="M133.6 492.0L136.1 502.3M133.6 492.0L131.1 502.3" fill="none" stroke="#424247" stroke-width="0.95"/>
<path d="M133.6 843.0L131.1 832.7M133.6 843.0L136.1 832.7" fill="none" stroke="#424247" stroke-width="0.95"/>
<text x="119.6" y="693.6" font-size="14.2" textLength="25.5" lengthAdjust="spacingAndGlyphs" fill="#2f2f32" stroke="#2f2f32" stroke-width="0.22">277</text>
<line x1="161.2" y1="696.0" x2="294.4" y2="696.0" stroke="#424247" stroke-width="1.0"/>
<line x1="183.9" y1="696.0" x2="183.9" y2="756.0" stroke="#424247" stroke-width="1.0"/>
<line x1="183.9" y1="783.0" x2="183.9" y2="843.0" stroke="#424247" stroke-width="1.0"/>
<path d="M183.9 696.0L186.4 706.3M183.9 696.0L181.4 706.3" fill="none" stroke="#424247" stroke-width="0.95"/>
<path d="M183.9 843.0L181.4 832.7M183.9 843.0L186.4 832.7" fill="none" stroke="#424247" stroke-width="0.95"/>
<text x="170.3" y="776.8" font-size="14.2" textLength="26.4" lengthAdjust="spacingAndGlyphs" fill="#2f2f32" stroke="#2f2f32" stroke-width="0.22">119</text>
<line x1="157.7" y1="827.0" x2="157.7" y2="843.0" stroke="#424247" stroke-width="1.0"/>
<path d="M157.7 843.0L155.2 832.7M157.7 843.0L160.2 832.7" fill="none" stroke="#424247" stroke-width="0.95"/>
<text x="148.8" y="824.5" font-size="14.2" textLength="17.7" lengthAdjust="spacingAndGlyphs" fill="#2f2f32" stroke="#2f2f32" stroke-width="0.22">12</text>
<line x1="129.0" y1="843.0" x2="265.0" y2="843.0" stroke="#424247" stroke-width="1.0"/>
<circle cx="157.4" cy="859.4" r="2.4" fill="#2a2a2e" stroke="#424247" stroke-width="0.5"/>
<line x1="157.4" y1="859.4" x2="316.0" y2="859.4" stroke="#424247" stroke-width="1.0"/>
<line x1="133.6" y1="843.0" x2="133.6" y2="860.0" stroke="#424247" stroke-width="1.0"/>
<line x1="133.6" y1="878.0" x2="133.6" y2="915.0" stroke="#424247" stroke-width="1.0"/>
<path d="M133.6 843.0L136.1 853.3M133.6 843.0L131.1 853.3" fill="none" stroke="#424247" stroke-width="0.95"/>
<path d="M133.6 915.0L131.1 904.7M133.6 915.0L136.1 904.7" fill="none" stroke="#424247" stroke-width="0.95"/>
<text x="125.0" y="874.4" font-size="14.2" textLength="17.3" lengthAdjust="spacingAndGlyphs" fill="#2f2f32" stroke="#2f2f32" stroke-width="0.22">55</text>
<text x="142.2" y="885.6" font-size="14.2" textLength="30.5" lengthAdjust="spacingAndGlyphs" fill="#2f2f32" stroke="#2f2f32" stroke-width="0.22">27.8</text>
<line x1="177.0" y1="890.6" x2="286.0" y2="890.6" stroke="#424247" stroke-width="1.0"/>
<line x1="291.0" y1="890.6" x2="313.6" y2="890.6" stroke="#424247" stroke-width="1.0"/>
<line x1="152.0" y1="895.4" x2="286.0" y2="895.4" stroke="#424247" stroke-width="1.0"/>
<line x1="291.0" y1="895.4" x2="313.6" y2="895.4" stroke="#424247" stroke-width="1.0"/>
<line x1="181.6" y1="875.0" x2="181.6" y2="890.6" stroke="#424247" stroke-width="1.0"/>
<path d="M181.6 890.6L180.0 883.8M181.6 890.6L183.2 883.8" fill="none" stroke="#424247" stroke-width="0.95"/>
<line x1="181.6" y1="895.4" x2="181.6" y2="921.0" stroke="#424247" stroke-width="1.0"/>
<path d="M181.6 895.4L183.2 902.2M181.6 895.4L180.0 902.2" fill="none" stroke="#424247" stroke-width="0.95"/>
<line x1="157.6" y1="895.4" x2="157.6" y2="909.0" stroke="#424247" stroke-width="1.0"/>
<path d="M157.6 895.4L159.2 902.2M157.6 895.4L156.0 902.2" fill="none" stroke="#424247" stroke-width="0.95"/>
<line x1="129.0" y1="915.0" x2="176.0" y2="915.0" stroke="#424247" stroke-width="1.0"/>
<line x1="187.0" y1="915.0" x2="286.0" y2="915.0" stroke="#424247" stroke-width="1.0"/>
<line x1="291.0" y1="915.0" x2="313.6" y2="915.0" stroke="#424247" stroke-width="1.0"/>
<text x="143.8" y="936.4" font-size="14.2" textLength="30.3" lengthAdjust="spacingAndGlyphs" fill="#2f2f32" stroke="#2f2f32" stroke-width="0.22">1.85</text>
<text x="177.9" y="936.4" font-size="12.2" textLength="41.7" lengthAdjust="spacingAndGlyphs" fill="#2f2f32" stroke="#2f2f32" stroke-width="0.22">+0.3/-0</text>
<text x="151.3" y="963.0" font-size="14.2" textLength="113.3" lengthAdjust="spacingAndGlyphs" fill="#2f2f32" stroke="#2f2f32" stroke-width="0.22">Spline B8x32x36</text>
<text x="139.1" y="977.0" font-size="14.2" textLength="125.9" lengthAdjust="spacingAndGlyphs" fill="#2f2f32" stroke="#2f2f32" stroke-width="0.22">(ISO 14/DIN 5462)</text>
<path d="M316.9 904.3 L303 908.6 Q299.5 910 297 914 L269 950" fill="none" stroke="#424247" stroke-width="0.8" stroke-linejoin="round" stroke-linecap="round"/>
<line x1="418.0" y1="843.0" x2="470.0" y2="843.0" stroke="#424247" stroke-width="1.0"/>
<line x1="396.0" y1="854.4" x2="468.0" y2="854.4" stroke="#424247" stroke-width="1.0"/>
<line x1="464.0" y1="682.6" x2="464.0" y2="750.0" stroke="#424247" stroke-width="1.0"/>
<line x1="464.0" y1="770.0" x2="464.0" y2="843.0" stroke="#424247" stroke-width="1.0"/>
<path d="M464.0 682.6L466.5 692.9M464.0 682.6L461.5 692.9" fill="none" stroke="#424247" stroke-width="0.95"/>
<path d="M464.0 843.0L461.5 832.7M464.0 843.0L466.5 832.7" fill="none" stroke="#424247" stroke-width="0.95"/>
<text x="450.8" y="763.2" font-size="14.2" textLength="26.0" lengthAdjust="spacingAndGlyphs" fill="#2f2f32" stroke="#2f2f32" stroke-width="0.22">127</text>
<line x1="464.0" y1="854.4" x2="464.0" y2="874.0" stroke="#424247" stroke-width="1.0"/>
<path d="M464.0 854.4L465.9 862.2M464.0 854.4L462.1 862.2" fill="none" stroke="#424247" stroke-width="0.95"/>
<text x="452.3" y="886.6" font-size="14.2" textLength="22.4" lengthAdjust="spacingAndGlyphs" fill="#2f2f32" stroke="#2f2f32" stroke-width="0.22">8.5</text>
<line x1="288.6" y1="862.0" x2="288.6" y2="995.0" stroke="#424247" stroke-width="1.0"/>
<line x1="392.6" y1="859.0" x2="392.6" y2="921.0" stroke="#424247" stroke-width="1.0"/>
<line x1="392.6" y1="970.0" x2="392.6" y2="976.0" stroke="#424247" stroke-width="1.0"/>
<line x1="392.6" y1="984.0" x2="392.6" y2="995.0" stroke="#424247" stroke-width="1.0"/>
<line x1="323.0" y1="916.5" x2="323.0" y2="948.0" stroke="#424247" stroke-width="1.0"/>
<line x1="357.6" y1="916.5" x2="357.6" y2="948.0" stroke="#424247" stroke-width="1.0"/>
<line x1="320.6" y1="916.5" x2="320.6" y2="971.0" stroke="#424247" stroke-width="1.0"/>
<line x1="360.6" y1="916.5" x2="360.6" y2="971.0" stroke="#424247" stroke-width="1.0"/>
<line x1="323.0" y1="942.4" x2="444.0" y2="942.4" stroke="#424247" stroke-width="1.0"/>
<path d="M323.0 942.4L330.8 940.5M323.0 942.4L330.8 944.3" fill="none" stroke="#424247" stroke-width="0.95"/>
<path d="M357.6 942.4L349.8 944.3M357.6 942.4L349.8 940.5" fill="none" stroke="#424247" stroke-width="0.95"/>
<line x1="320.6" y1="966.0" x2="407.0" y2="966.0" stroke="#424247" stroke-width="1.0"/>
<path d="M320.6 966.0L328.4 964.1M320.6 966.0L328.4 967.9" fill="none" stroke="#424247" stroke-width="0.95"/>
<path d="M360.6 966.0L352.8 967.9M360.6 966.0L352.8 964.1" fill="none" stroke="#424247" stroke-width="0.95"/>
<line x1="288.6" y1="989.0" x2="392.6" y2="989.0" stroke="#424247" stroke-width="0.9"/>
<path d="M288.6 989.0L298.9 986.5M288.6 989.0L298.9 991.5" fill="none" stroke="#424247" stroke-width="0.95"/>
<path d="M392.6 989.0L382.3 991.5M392.6 989.0L382.3 986.5" fill="none" stroke="#424247" stroke-width="0.95"/>
<text x="366.9" y="938.0" font-size="14.2" textLength="28.8" lengthAdjust="spacingAndGlyphs" fill="#2f2f32" stroke="#2f2f32" stroke-width="0.22">Ø33</text>
<text x="398.9" y="938.0" font-size="12.2" textLength="41.8" lengthAdjust="spacingAndGlyphs" fill="#2f2f32" stroke="#2f2f32" stroke-width="0.22">+0/-0.1</text>
<text x="364.5" y="962.4" font-size="14.2" textLength="41.2" lengthAdjust="spacingAndGlyphs" fill="#2f2f32" stroke="#2f2f32" stroke-width="0.22">Ø34.9</text>
<text x="336.1" y="982.4" font-size="14.2" textLength="28.5" lengthAdjust="spacingAndGlyphs" fill="#2f2f32" stroke="#2f2f32" stroke-width="0.22">Ø80</text>
<text x="368.7" y="982.4" font-size="13" textLength="69.1" lengthAdjust="spacingAndGlyphs" fill="#2f2f32" stroke="#2f2f32" stroke-width="0.22">(+0/-0.013)</text>
<text x="458.7" y="550.6" font-size="14.2" textLength="50.6" lengthAdjust="spacingAndGlyphs" fill="#2f2f32" stroke="#2f2f32" stroke-width="0.22">Approx.</text>
<text x="458.1" y="566.2" font-size="14.2" textLength="58.2" lengthAdjust="spacingAndGlyphs" fill="#2f2f32" stroke="#2f2f32" stroke-width="0.22">center of</text>
<text x="458.1" y="581.8" font-size="14.2" textLength="43.1" lengthAdjust="spacingAndGlyphs" fill="#2f2f32" stroke="#2f2f32" stroke-width="0.22">gravity</text>
</g>
<g id="lh-view">
<path d="M584.4 538 L580.9 595 L573.4 681 L573.6 775 L598.5 802.1 L598.5 843.4 L616.8 843.4 L616.8 851.8 Q616.8 855.1 620 855.1 L717 855.1 Q720.2 855.1 720.2 851.8 L720.2 843.4 L739.3 843.4 L739.3 802.1 L763.7 775 L764.2 681 L759.1 595 L755.4 538 Z" fill="#e2e2e5" stroke="#424247" stroke-width="1.3" stroke-linejoin="round" stroke-linecap="round"/>
<g transform="translate(1338.4 306.3) scale(-1 1)">
<path d="M578 309.2 L579.8 291.6 L582 232 L583.4 202.4 Q584 193.6 596.6 191.4 L642.8 188.1 Q647 188.4 649.4 193.6 Q651.5 196.9 656.5 196.9 L683 196.9 Q686 196.6 687.8 192.5 Q690 188.1 694.5 188.1 L712.6 188.5 L743.4 192.5 Q751 194 752 203 L754 233.2 L755.8 274 L757.6 300 L756 318 L580 318 Z" fill="#e2e2e5" stroke="none" stroke-width="0" stroke-linejoin="round" stroke-linecap="round"/>
<path d="M579.4 296 L579.8 291.6 L582 232 L583.4 202.4 Q584 193.6 596.6 191.4 L642.8 188.1 Q647 188.4 649.4 193.6 Q651.5 196.9 656.5 196.9 L683 196.9 Q686 196.6 687.8 192.5 Q690 188.1 694.5 188.1 L712.6 188.5 L743.4 192.5 Q751 194 752 203 L754 233.2 L755.8 274 L757 296" fill="none" stroke="#424247" stroke-width="1.3" stroke-linejoin="round" stroke-linecap="round"/>
<path d="M583.4 204 L585 233 Q589 240.6 603.2 242 L625.2 243.1 Q632 244 638.4 248.2 Q644 250.4 649.4 250.4 Q655 250.4 660 248 Q664 245.8 670 245.2 L700 242.4 L712.6 242 L732.4 240.3 Q747 239 752 236.5 L754 233.2" fill="none" stroke="#424247" stroke-width="1.0" stroke-linejoin="round" stroke-linecap="round"/>
<path d="M585.4 236 L584 290 M751.6 238 L753.4 292" fill="none" stroke="#424247" stroke-width="0.8" stroke-linejoin="round" stroke-linecap="round"/>
<path d="M588.6 278.4 C590 260 596 243.4 603 242.8 C610 243.4 615.6 262 617.6 287.2" fill="none" stroke="#424247" stroke-width="0.9" stroke-linejoin="round" stroke-linecap="round"/>
<path d="M749.2 278.4 C747.8 260 741 243.4 733.8 242.8 C727 243.4 720.4 262 718.4 287.2" fill="none" stroke="#424247" stroke-width="0.9" stroke-linejoin="round" stroke-linecap="round"/>
<path d="M625.2 243.6 C630 262 638 284.4 648 285 C658 284.4 666 262 670 245.4" fill="none" stroke="#424247" stroke-width="0.9" stroke-linejoin="round" stroke-linecap="round"/>
<path d="M617.6 284.6 L648 286.1 L718.4 283.9" fill="none" stroke="#424247" stroke-width="0.9" stroke-linejoin="round" stroke-linecap="round"/>
<path d="M617.6 285 L619.4 293.8 L665.6 295.6 L717.3 293.4 L718.4 284.4" fill="none" stroke="#424247" stroke-width="0.9" stroke-linejoin="round" stroke-linecap="round"/>
<path d="M582.4 283 Q583.4 290.5 585.3 293.8 Q588 297.6 593 299.3 L621.6 303.7 L670 305.9 L718.4 303.7 L747 299.3 Q751.6 297.6 753.6 293.8 Q755 290.5 755.4 283" fill="none" stroke="#424247" stroke-width="0.9" stroke-linejoin="round" stroke-linecap="round"/>
<path d="M578 309.2 Q580.6 312.5 585.3 314.7 Q590 318.6 597.4 321.3 C620 324.6 645 326 667.8 326.1 C692 326 718 324.6 738.2 321.3 Q748.5 318.6 753.6 313.6 Q756.5 309.5 758 303" fill="none" stroke="#424247" stroke-width="0.9" stroke-linejoin="round" stroke-linecap="round"/>
<path d="M589.2 281.7 L589.2 292.6 A11.5 7.2 0 0 0 612.2 292.6 L612.2 281.7" fill="#c6c6ca" stroke="#424247" stroke-width="0.9" stroke-linejoin="round" stroke-linecap="round"/>
<ellipse cx="600.7" cy="281.7" rx="11.5" ry="7.2" fill="#d3d3d7" stroke="#424247" stroke-width="0.9"/>
<path d="M593.1 281.7 L596.8000000000001 277.4 L604.6 277.4 L608.3000000000001 281.7 L604.6 286 L596.8000000000001 286 Z" fill="#b4b4b9" stroke="#424247" stroke-width="0.7" stroke-linejoin="round" stroke-linecap="round"/>
<line x1="600.7" y1="277.4" x2="600.7" y2="286.0" stroke="#424247" stroke-width="0.6"/>
<path d="M725.6 281.7 L725.6 292.6 A11.5 7.2 0 0 0 748.6 292.6 L748.6 281.7" fill="#c6c6ca" stroke="#424247" stroke-width="0.9" stroke-linejoin="round" stroke-linecap="round"/>
<ellipse cx="737.1" cy="281.7" rx="11.5" ry="7.2" fill="#d3d3d7" stroke="#424247" stroke-width="0.9"/>
<path d="M729.5 281.7 L733.2 277.4 L741.0 277.4 L744.7 281.7 L741.0 286 L733.2 286 Z" fill="#b4b4b9" stroke="#424247" stroke-width="0.7" stroke-linejoin="round" stroke-linecap="round"/>
<line x1="737.1" y1="277.4" x2="737.1" y2="286.0" stroke="#424247" stroke-width="0.6"/>
<ellipse cx="611.6" cy="207.9" rx="16.8" ry="11.2" fill="#cbcbcf" stroke="#424247" stroke-width="1.0"/>
<ellipse cx="611.6" cy="208.24" rx="14.9" ry="9.6" fill="none" stroke="#5a5a5f" stroke-width="0.7"/>
<ellipse cx="611.6" cy="208.59" rx="12.9" ry="8.1" fill="none" stroke="#5a5a5f" stroke-width="0.7"/>
<ellipse cx="611.6" cy="208.93" rx="11.0" ry="6.5" fill="none" stroke="#5a5a5f" stroke-width="0.7"/>
<ellipse cx="611.6" cy="209.28" rx="9.1" ry="4.9" fill="none" stroke="#5a5a5f" stroke-width="0.7"/>
<ellipse cx="611.6" cy="209.62" rx="7.1" ry="3.4" fill="none" stroke="#5a5a5f" stroke-width="0.7"/>
<ellipse cx="649.4" cy="232.1" rx="17" ry="11.2" fill="#cbcbcf" stroke="#424247" stroke-width="1.0"/>
<ellipse cx="649.4" cy="232.44" rx="15.0" ry="9.6" fill="none" stroke="#5a5a5f" stroke-width="0.7"/>
<ellipse cx="649.4" cy="232.79" rx="13.1" ry="8.1" fill="none" stroke="#5a5a5f" stroke-width="0.7"/>
<ellipse cx="649.4" cy="233.13" rx="11.1" ry="6.5" fill="none" stroke="#5a5a5f" stroke-width="0.7"/>
<ellipse cx="649.4" cy="233.48" rx="9.2" ry="4.9" fill="none" stroke="#5a5a5f" stroke-width="0.7"/>
<ellipse cx="649.4" cy="233.82" rx="7.2" ry="3.4" fill="none" stroke="#5a5a5f" stroke-width="0.7"/>
<ellipse cx="713.3" cy="217.2" rx="28" ry="18.2" fill="#c3c3c8" stroke="#424247" stroke-width="1.0"/>
<path d="M690.4 227.6 C697 217.6 729 217.6 736 227.6 A28 18.2 0 0 1 690.4 227.6 Z" fill="#d6d6da" stroke="#424247" stroke-width="0.8" stroke-linejoin="round" stroke-linecap="round"/>
<path d="M694.2 230.5 C700 222.4 726.5 222.4 732.3 230.5 A28 18.2 0 0 1 694.2 230.5 Z" fill="#919197" stroke="#424247" stroke-width="0.8" stroke-linejoin="round" stroke-linecap="round"/>
<ellipse cx="728" cy="195.6" rx="5.6" ry="4" fill="#9a9aa0" stroke="#424247" stroke-width="0.8"/>
<ellipse cx="705" cy="238" rx="6" ry="4.2" fill="#9a9aa0" stroke="#424247" stroke-width="0.8"/>
</g>
<line x1="706.3" y1="514.2" x2="748.1" y2="514.2" stroke="#424247" stroke-width="0.8"/>
<line x1="669.4" y1="538.6" x2="710.7" y2="538.6" stroke="#424247" stroke-width="0.8"/>
<line x1="592.8" y1="523.5" x2="657.7" y2="523.5" stroke="#424247" stroke-width="0.8"/>
<path d="M654 604.3 L667 604.6 Q677 605.4 685.6 604.5 L685.5 607.3 Q676 608.5 666.6 607.7 L664 608.9 Z" fill="#47474c" stroke="#424247" stroke-width="0.4" stroke-linejoin="round" stroke-linecap="round"/>
<text x="698.0" y="610.0" font-size="11.2" font-weight="bold" textLength="8.5" lengthAdjust="spacingAndGlyphs" fill="#3a3a3e" stroke="#3a3a3e" stroke-width="0.22">B</text>
<path d="M573.6 680 Q574.6 690 577.6 695.4 Q581 703.6 588.6 705.3 L648.5 706.4 M764 680 Q763 690 759.1 695.4 Q756 703.6 749.2 705.3 L689.4 706.4" fill="none" stroke="#424247" stroke-width="0.9" stroke-linejoin="round" stroke-linecap="round"/>
<line x1="584.2" y1="720.0" x2="648.8" y2="720.0" stroke="#424247" stroke-width="1.0"/>
<line x1="689.0" y1="720.0" x2="753.2" y2="720.0" stroke="#424247" stroke-width="1.0"/>
<line x1="573.6" y1="742.3" x2="764.0" y2="742.3" stroke="#424247" stroke-width="1.0"/>
<line x1="573.6" y1="775.0" x2="764.0" y2="775.0" stroke="#424247" stroke-width="1.0"/>
<circle cx="668.9" cy="712.3" r="19.5" fill="#e2e2e5" stroke="#424247" stroke-width="1.0"/>
<path d="M668.9 696.5 L682.3 704.3 L682.3 720.1 L668.9 727.9 L655.5 720.1 L655.5 704.3 Z" fill="#ffffff" stroke="#424247" stroke-width="1.0" stroke-linejoin="round" stroke-linecap="round"/>
<line x1="646.9" y1="712.3" x2="690.3" y2="712.3" stroke="#424247" stroke-width="0.8"/>
<path d="M586.6 775 L586.6 788 Q586.6 790 588.6 790 L610.2 790 Q612.2 790 612.2 788 L612.2 775" fill="#dcdce0" stroke="#424247" stroke-width="0.8" stroke-linejoin="round" stroke-linecap="round"/>
<line x1="589.2" y1="776.0" x2="589.2" y2="789.0" stroke="#66666c" stroke-width="0.55"/>
<line x1="591.7" y1="776.0" x2="591.7" y2="789.0" stroke="#66666c" stroke-width="0.55"/>
<line x1="594.3" y1="776.0" x2="594.3" y2="789.0" stroke="#66666c" stroke-width="0.55"/>
<line x1="596.8" y1="776.0" x2="596.8" y2="789.0" stroke="#66666c" stroke-width="0.55"/>
<line x1="599.4" y1="776.0" x2="599.4" y2="789.0" stroke="#66666c" stroke-width="0.55"/>
<line x1="602.0" y1="776.0" x2="602.0" y2="789.0" stroke="#66666c" stroke-width="0.55"/>
<line x1="604.5" y1="776.0" x2="604.5" y2="789.0" stroke="#66666c" stroke-width="0.55"/>
<line x1="607.1" y1="776.0" x2="607.1" y2="789.0" stroke="#66666c" stroke-width="0.55"/>
<line x1="609.6" y1="776.0" x2="609.6" y2="789.0" stroke="#66666c" stroke-width="0.55"/>
<path d="M725.6 775 L725.6 788 Q725.6 790 727.6 790 L749.2 790 Q751.2 790 751.2 788 L751.2 775" fill="#dcdce0" stroke="#424247" stroke-width="0.8" stroke-linejoin="round" stroke-linecap="round"/>
<line x1="728.2" y1="776.0" x2="728.2" y2="789.0" stroke="#66666c" stroke-width="0.55"/>
<line x1="730.7" y1="776.0" x2="730.7" y2="789.0" stroke="#66666c" stroke-width="0.55"/>
<line x1="733.3" y1="776.0" x2="733.3" y2="789.0" stroke="#66666c" stroke-width="0.55"/>
<line x1="735.8" y1="776.0" x2="735.8" y2="789.0" stroke="#66666c" stroke-width="0.55"/>
<line x1="738.4" y1="776.0" x2="738.4" y2="789.0" stroke="#66666c" stroke-width="0.55"/>
<line x1="741.0" y1="776.0" x2="741.0" y2="789.0" stroke="#66666c" stroke-width="0.55"/>
<line x1="743.5" y1="776.0" x2="743.5" y2="789.0" stroke="#66666c" stroke-width="0.55"/>
<line x1="746.1" y1="776.0" x2="746.1" y2="789.0" stroke="#66666c" stroke-width="0.55"/>
<line x1="748.6" y1="776.0" x2="748.6" y2="789.0" stroke="#66666c" stroke-width="0.55"/>
<path d="M613.9 776.8 L635.9 799.9 M723.9 776.8 L701.9 799.9" fill="none" stroke="#424247" stroke-width="0.9" stroke-linejoin="round" stroke-linecap="round"/>
<path d="M598.5 802.1 Q618 808.5 635.9 800.6 M739.3 802.1 Q720 808.5 701.9 800.6" fill="none" stroke="#424247" stroke-width="0.9" stroke-linejoin="round" stroke-linecap="round"/>
<path d="M637.4 800.6 L637.4 822 Q637.4 825.2 634.4 825.2 L600.7 825.2 M699.7 800.6 L699.7 822 Q699.7 825.2 702.7 825.2 L737.1 825.2" fill="none" stroke="#424247" stroke-width="0.9" stroke-linejoin="round" stroke-linecap="round"/>
<line x1="640.3" y1="800.6" x2="697.5" y2="800.6" stroke="#424247" stroke-width="1.0"/>
<line x1="599.2" y1="729.5" x2="599.2" y2="796.6" stroke="#424247" stroke-width="0.8" stroke-dasharray="12 3 3 3"/>
<line x1="737.8" y1="729.5" x2="737.8" y2="796.6" stroke="#424247" stroke-width="0.8" stroke-dasharray="12 3 3 3"/>
<line x1="617.9" y1="820.8" x2="617.9" y2="846.0" stroke="#424247" stroke-width="0.8" stroke-dasharray="8 3"/>
<line x1="718.9" y1="820.8" x2="718.9" y2="846.0" stroke="#424247" stroke-width="0.8" stroke-dasharray="8 3"/>
<circle cx="668.5" cy="830.7" r="13.4" fill="#e2e2e5" stroke="#424247" stroke-width="0.9"/>
<circle cx="668.5" cy="830.7" r="4.4" fill="#bbbbc0" stroke="#424247" stroke-width="0.8"/>
<line x1="652.0" y1="830.7" x2="685.0" y2="830.7" stroke="#424247" stroke-width="0.7"/>
<line x1="662.5" y1="838.4" x2="674.5" y2="838.4" stroke="#424247" stroke-width="0.7"/>
<line x1="618.0" y1="851.8" x2="719.0" y2="851.8" stroke="#424247" stroke-width="0.8"/>
<path d="M644.4 855.1 L693.2 855.1 L690.8 859.8 L647.2 859.8 Z" fill="#e6e6e9" stroke="#424247" stroke-width="1.0" stroke-linejoin="round" stroke-linecap="round"/>
<path d="M648 859.5 L689.8 859.5 L689.8 890.8 L688.5 891.8 L688.5 895.9 L689.8 896.9 L689.8 911.6 L686 915.6 L651.8 915.6 L648 911.6 L648 896.9 L649.3 895.9 L649.3 891.8 L648 890.8 Z" fill="#fbfbfc" stroke="#424247" stroke-width="1.1" stroke-linejoin="round" stroke-linecap="round"/>
<line x1="651.6" y1="860.0" x2="651.6" y2="913.0" stroke="#424247" stroke-width="0.6"/>
<line x1="654.6" y1="860.0" x2="654.6" y2="913.0" stroke="#424247" stroke-width="0.6"/>
<line x1="684.3" y1="860.0" x2="684.3" y2="913.0" stroke="#424247" stroke-width="0.6"/>
<line x1="687.0" y1="860.0" x2="687.0" y2="913.0" stroke="#424247" stroke-width="0.6"/>
<line x1="657.5" y1="860.0" x2="657.5" y2="872.0" stroke="#424247" stroke-width="0.6"/>
<line x1="680.8" y1="860.0" x2="680.8" y2="872.0" stroke="#424247" stroke-width="0.6"/>
<path d="M654.6 915.6 L654.6 880 Q654.6 869.4 669.4 869.4 Q684.3 869.4 684.3 880 L684.3 915.6 Z" fill="#f3f3f5" stroke="#424247" stroke-width="0.9" stroke-linejoin="round" stroke-linecap="round"/>
<line x1="655.0" y1="871.4" x2="661.0" y2="877.0" stroke="#424247" stroke-width="0.9"/>
<line x1="677.0" y1="871.4" x2="684.0" y2="877.0" stroke="#424247" stroke-width="0.9"/>
<line x1="655.0" y1="876.4" x2="661.0" y2="882.0" stroke="#424247" stroke-width="0.9"/>
<line x1="677.0" y1="876.4" x2="684.0" y2="882.0" stroke="#424247" stroke-width="0.9"/>
<line x1="655.0" y1="881.4" x2="661.0" y2="887.0" stroke="#424247" stroke-width="0.9"/>
<line x1="677.0" y1="881.4" x2="684.0" y2="887.0" stroke="#424247" stroke-width="0.9"/>
<line x1="655.0" y1="886.4" x2="661.0" y2="892.0" stroke="#424247" stroke-width="0.9"/>
<line x1="677.0" y1="886.4" x2="684.0" y2="892.0" stroke="#424247" stroke-width="0.9"/>
<line x1="655.0" y1="891.4" x2="661.0" y2="897.0" stroke="#424247" stroke-width="0.9"/>
<line x1="677.0" y1="891.4" x2="684.0" y2="897.0" stroke="#424247" stroke-width="0.9"/>
<line x1="655.0" y1="896.4" x2="661.0" y2="902.0" stroke="#424247" stroke-width="0.9"/>
<line x1="677.0" y1="896.4" x2="684.0" y2="902.0" stroke="#424247" stroke-width="0.9"/>
<line x1="655.0" y1="901.4" x2="661.0" y2="907.0" stroke="#424247" stroke-width="0.9"/>
<line x1="677.0" y1="901.4" x2="684.0" y2="907.0" stroke="#424247" stroke-width="0.9"/>
<line x1="655.0" y1="906.4" x2="661.0" y2="912.0" stroke="#424247" stroke-width="0.9"/>
<line x1="677.0" y1="906.4" x2="684.0" y2="912.0" stroke="#424247" stroke-width="0.9"/>
<line x1="655.0" y1="911.4" x2="661.0" y2="917.0" stroke="#424247" stroke-width="0.9"/>
<line x1="677.0" y1="911.4" x2="684.0" y2="917.0" stroke="#424247" stroke-width="0.9"/>
<path d="M661.2 915.6 L661.2 880 Q661.2 872.7 668.9 872.7 Q676.6 872.7 676.6 880 L676.6 915.6 Z" fill="#e6e6e9" stroke="#424247" stroke-width="0.9" stroke-linejoin="round" stroke-linecap="round"/>
<line x1="661.2" y1="884.0" x2="676.6" y2="884.0" stroke="#424247" stroke-width="0.6"/>
<line x1="661.2" y1="909.6" x2="676.6" y2="909.6" stroke="#424247" stroke-width="0.6"/>
<line x1="664.0" y1="884.0" x2="664.0" y2="909.6" stroke="#424247" stroke-width="0.5"/>
<line x1="673.8" y1="884.0" x2="673.8" y2="909.6" stroke="#424247" stroke-width="0.5"/>
<line x1="668.9" y1="489.2" x2="668.9" y2="919.0" stroke="#424247" stroke-width="0.9" stroke-dasharray="40 4 8 4"/>
<line x1="624.9" y1="434.2" x2="624.9" y2="490.3" stroke="#424247" stroke-width="1.0"/>
<line x1="624.9" y1="500.0" x2="624.9" y2="545.3" stroke="#424247" stroke-width="0.8"/>
<line x1="726.6" y1="434.2" x2="726.6" y2="491.4" stroke="#424247" stroke-width="1.0"/>
<line x1="726.6" y1="497.0" x2="726.6" y2="530.0" stroke="#424247" stroke-width="0.8"/>
<line x1="689.4" y1="459.5" x2="689.4" y2="520.0" stroke="#424247" stroke-width="1.0"/>
<line x1="689.4" y1="524.0" x2="689.4" y2="553.0" stroke="#424247" stroke-width="0.8"/>
<line x1="624.9" y1="440.1" x2="726.6" y2="440.1" stroke="#424247" stroke-width="0.9"/>
<path d="M624.9 440.1L635.2 437.6M624.9 440.1L635.2 442.6" fill="none" stroke="#424247" stroke-width="0.95"/>
<path d="M726.6 440.1L716.3 442.6M726.6 440.1L716.3 437.6" fill="none" stroke="#424247" stroke-width="0.95"/>
<line x1="624.9" y1="464.3" x2="689.4" y2="464.3" stroke="#424247" stroke-width="0.9"/>
<path d="M624.9 464.3L635.2 461.8M624.9 464.3L635.2 466.8" fill="none" stroke="#424247" stroke-width="0.95"/>
<path d="M689.4 464.3L679.1 466.8M689.4 464.3L679.1 461.8" fill="none" stroke="#424247" stroke-width="0.95"/>
<text x="666.6" y="436.0" font-size="14.2" textLength="15.7" lengthAdjust="spacingAndGlyphs" fill="#2f2f32" stroke="#2f2f32" stroke-width="0.22">81</text>
<text x="650.3" y="461.0" font-size="14.2" textLength="15.7" lengthAdjust="spacingAndGlyphs" fill="#2f2f32" stroke="#2f2f32" stroke-width="0.22">51</text>
<line x1="752.5" y1="514.4" x2="842.8" y2="514.4" stroke="#424247" stroke-width="1.0"/>
<line x1="717.3" y1="538.6" x2="819.6" y2="538.6" stroke="#424247" stroke-width="1.0"/>
<line x1="838.9" y1="514.4" x2="838.9" y2="655.6" stroke="#424247" stroke-width="1.0"/>
<line x1="838.9" y1="682.8" x2="838.9" y2="843.2" stroke="#424247" stroke-width="1.0"/>
<path d="M838.9 514.4L841.4 524.7M838.9 514.4L836.4 524.7" fill="none" stroke="#424247" stroke-width="0.95"/>
<path d="M838.9 843.2L836.4 832.9M838.9 843.2L841.4 832.9" fill="none" stroke="#424247" stroke-width="0.95"/>
<line x1="815.5" y1="538.6" x2="815.5" y2="685.0" stroke="#424247" stroke-width="1.0"/>
<line x1="815.5" y1="711.0" x2="815.5" y2="843.2" stroke="#424247" stroke-width="1.0"/>
<path d="M815.5 538.6L818.0 548.9M815.5 538.6L813.0 548.9" fill="none" stroke="#424247" stroke-width="0.95"/>
<path d="M815.5 843.2L813.0 832.9M815.5 843.2L818.0 832.9" fill="none" stroke="#424247" stroke-width="0.95"/>
<text x="825.7" y="675.6" font-size="14.2" textLength="25.9" lengthAdjust="spacingAndGlyphs" fill="#2f2f32" stroke="#2f2f32" stroke-width="0.22">262</text>
<text x="801.0" y="704.2" font-size="14.2" textLength="27.0" lengthAdjust="spacingAndGlyphs" fill="#2f2f32" stroke="#2f2f32" stroke-width="0.22">243</text>
<line x1="743.3" y1="843.2" x2="843.3" y2="843.2" stroke="#424247" stroke-width="1.0"/>
<line x1="743.3" y1="825.2" x2="761.0" y2="825.2" stroke="#424247" stroke-width="1.0"/>
<line x1="764.6" y1="825.2" x2="796.7" y2="825.2" stroke="#424247" stroke-width="1.0"/>
<line x1="791.6" y1="809.6" x2="791.6" y2="857.2" stroke="#424247" stroke-width="1.0"/>
<path d="M791.6 825.2L790.0 818.4M791.6 825.2L793.2 818.4" fill="none" stroke="#424247" stroke-width="0.95"/>
<path d="M791.6 843.2L793.2 850.0M791.6 843.2L790.0 850.0" fill="none" stroke="#424247" stroke-width="0.95"/>
<text x="783.6" y="807.2" font-size="14.2" textLength="17.0" lengthAdjust="spacingAndGlyphs" fill="#2f2f32" stroke="#2f2f32" stroke-width="0.22">15</text>
<line x1="573.6" y1="785.6" x2="573.6" y2="971.7" stroke="#424247" stroke-width="1.0"/>
<line x1="764.4" y1="783.4" x2="764.4" y2="971.7" stroke="#424247" stroke-width="1.0"/>
<line x1="573.6" y1="966.9" x2="764.4" y2="966.9" stroke="#424247" stroke-width="0.9"/>
<path d="M573.6 966.9L583.9 964.4M573.6 966.9L583.9 969.4" fill="none" stroke="#424247" stroke-width="0.95"/>
<path d="M764.4 966.9L754.1 969.4M764.4 966.9L754.1 964.4" fill="none" stroke="#424247" stroke-width="0.95"/>
<text x="655.6" y="962.5" font-size="14.2" textLength="25.4" lengthAdjust="spacingAndGlyphs" fill="#2f2f32" stroke="#2f2f32" stroke-width="0.22">148</text>
<line x1="660.5" y1="916.7" x2="660.5" y2="948.6" stroke="#424247" stroke-width="1.0"/>
<line x1="676.6" y1="916.7" x2="676.6" y2="948.6" stroke="#424247" stroke-width="1.0"/>
<line x1="645.8" y1="942.7" x2="660.5" y2="942.7" stroke="#424247" stroke-width="1.0"/>
<line x1="676.6" y1="942.7" x2="747.0" y2="942.7" stroke="#424247" stroke-width="1.0"/>
<path d="M660.5 942.7L652.7 944.6M660.5 942.7L652.7 940.8" fill="none" stroke="#424247" stroke-width="0.95"/>
<path d="M676.6 942.7L684.4 940.8M676.6 942.7L684.4 944.6" fill="none" stroke="#424247" stroke-width="0.95"/>
<text x="691.8" y="939.8" font-size="14.2" textLength="54.5" lengthAdjust="spacingAndGlyphs" fill="#2f2f32" stroke="#2f2f32" stroke-width="0.22">M12x24</text>
<text x="501.0" y="426.8" font-size="14.4" font-weight="bold" textLength="129.2" lengthAdjust="spacingAndGlyphs" fill="#2f2f32" stroke="#2f2f32" stroke-width="0.22">Left hand rotation</text>
<line x1="571.0" y1="435.3" x2="584.2" y2="484.8" stroke="#c9c9cc" stroke-width="0.7"/>
</g>
</svg>
<!-- ORDERING CODE -->
<div style="position:absolute;left:0;top:1039.4px;width:34px;height:2.2px;background:#f2ae3a;"></div>
<div style="position:absolute;left:26.2px;top:1033.6px;width:13.6px;height:13.6px;border-radius:50%;background:#f5ab35;"></div>
<div class="t b" style="top:1030.93px;font-size:20.4px;left:52.51px;transform-origin:0 0;transform:scaleX(1.0675);">Ordering code</div>
<div class="t" style="top:1073.12px;font-size:16.4px;left:51.90px;transform-origin:0 0;transform:scaleX(1.1157);">Example:</div>
<div class="t b" style="top:1070.88px;font-size:19.4px;left:169.42px;transform-origin:0 0;transform:scaleX(1.2151);">F2 - 53/53 - L</div>
<div class="ln" style="left:214.9px;top:1093.8px;width:64.6px;height:1.4px;"></div>
<div class="ln" style="left:297.9px;top:1093.8px;width:18.3px;height:1.4px;"></div>
<div class="ln" style="left:246.2px;top:1094px;width:1.4px;height:28px;"></div>
<div class="ln" style="left:224.4px;top:1120.6px;width:23.2px;height:1.4px;"></div>
<div class="ln" style="left:307.0px;top:1094px;width:1.4px;height:164.6px;"></div>
<div class="ln" style="left:214.9px;top:1257.2px;width:93.5px;height:1.4px;"></div>
<div class="t" style="top:1116.62px;font-size:16.4px;left:51.90px;transform-origin:0 0;transform:scaleX(1.1116);">Frame size [cm<span style="font-size:0.68em;position:relative;top:-0.42em;">3</span>/rev]</div>
<div class="t b" style="top:1137.32px;font-size:16.4px;left:53.08px;transform-origin:0 0;transform:scaleX(1.2956);">42/42</div>
<div class="t b" style="top:1158.47px;font-size:16.4px;left:52.74px;transform-origin:0 0;transform:scaleX(1.3018);">53/53</div>
<div class="t b" style="top:1179.62px;font-size:16.4px;left:52.74px;transform-origin:0 0;transform:scaleX(1.2990);">55/28</div>
<div class="t b" style="top:1200.77px;font-size:16.4px;left:52.48px;transform-origin:0 0;transform:scaleX(1.3039);">70/35</div>
<div class="t b" style="top:1221.92px;font-size:16.4px;left:52.48px;transform-origin:0 0;transform:scaleX(1.3110);">70/70</div>
<div class="t" style="top:1247.42px;font-size:16.4px;left:51.89px;transform-origin:0 0;transform:scaleX(1.1188);">Direction of rotation</div>
<div class="t b" style="top:1268.52px;font-size:16.4px;left:52.30px;transform-origin:0 0;">L</div>
<div class="t" style="top:1268.52px;font-size:16.4px;left:76.70px;transform-origin:0 0;transform:scaleX(1.1122);">Left hand</div>
<div class="t b" style="top:1289.62px;font-size:16.4px;left:52.30px;transform-origin:0 0;">R</div>
<div class="t" style="top:1289.62px;font-size:16.4px;left:76.71px;transform-origin:0 0;transform:scaleX(1.1050);">Right hand</div>
<!-- NOTES -->
<div class="note" style="left:348.2px;top:1059.3px;width:299px;height:153px;"></div>
<div class="t b" style="top:1070.24px;font-size:17.2px;left:360.29px;transform-origin:0 0;transform:scaleX(1.0552);">NOTE:</div>
<div class="t" style="top:1092.51px;font-size:17px;left:360.74px;transform-origin:0 0;">-</div>
<div class="t" style="top:1092.51px;font-size:17px;left:374.69px;transform-origin:0 0;transform:scaleX(1.0827);">Before start-up, tighten the</div>
<div class="t" style="top:1113.11px;font-size:17px;left:374.97px;transform-origin:0 0;transform:scaleX(1.0810);">inspection port plug to</div>
<div class="t" style="top:1133.41px;font-size:17px;left:375.28px;transform-origin:0 0;transform:scaleX(1.0538);">70 – 100 Nm.</div>
<div class="t" style="top:1162.81px;font-size:17px;left:360.74px;transform-origin:0 0;">-</div>
<div class="t" style="top:1162.81px;font-size:17px;left:375.82px;transform-origin:0 0;transform:scaleX(0.9949);">To change the direction of rotation,</div>
<div class="t b" style="top:1182.41px;font-size:17px;left:375.99px;transform-origin:0 0;transform:scaleX(1.0167);">the end cap must be replaced.</div>
<div class="note" style="left:348.2px;top:1226.2px;width:299px;height:104.4px;"></div>
<div class="t b" style="top:1237.24px;font-size:17.2px;left:360.29px;transform-origin:0 0;transform:scaleX(1.0552);">NOTE:</div>
<div class="t" style="top:1259.41px;font-size:17px;left:361.10px;transform-origin:0 0;transform:scaleX(1.0415);">The pump <b>does not</b> include a</div>
<div class="t" style="top:1280.41px;font-size:17px;left:360.99px;transform-origin:0 0;transform:scaleX(1.0684);">suction fitting; it must be ordered</div>
<div class="t" style="top:1301.41px;font-size:17px;left:361.01px;transform-origin:0 0;transform:scaleX(1.0453);">separately. See page 57ff.</div>
<!-- STANDARD VERSIONS TABLE -->
<div class="t b" style="top:1031.43px;font-size:20.4px;left:664.08px;transform-origin:0 0;transform:scaleX(1.0608);">Standard versions</div>
<div style="position:absolute;left:665.8px;top:1059.5px;width:285.2px;height:271.0px;box-sizing:border-box;border:1.4px solid #55555a;border-radius:0 18px 0 0;background:#fff;overflow:hidden;">
<div style="position:absolute;left:0;top:0;width:100%;height:22.6px;background:#f6a93a;"></div>
<div style="position:absolute;left:0;top:22.6px;width:138.9px;height:247.0px;background:#fde8c6;"></div>
<div style="position:absolute;left:138.2px;top:0;width:1.4px;height:100%;background:#55555a;"></div>
<div style="position:absolute;left:0;top:22.5px;width:100%;height:1.2px;background:#55555a;"></div>
<div style="position:absolute;left:0;top:46.5px;width:100%;height:1.2px;background:#55555a;"></div>
<div style="position:absolute;left:0;top:71.5px;width:100%;height:1.2px;background:#55555a;"></div>
<div style="position:absolute;left:0;top:96.5px;width:100%;height:1.2px;background:#55555a;"></div>
<div style="position:absolute;left:0;top:120.5px;width:100%;height:1.2px;background:#55555a;"></div>
<div style="position:absolute;left:0;top:145.5px;width:100%;height:1.2px;background:#55555a;"></div>
<div style="position:absolute;left:0;top:170.5px;width:100%;height:1.2px;background:#55555a;"></div>
<div style="position:absolute;left:0;top:194.5px;width:100%;height:1.2px;background:#55555a;"></div>
<div style="position:absolute;left:0;top:219.5px;width:100%;height:1.2px;background:#55555a;"></div>
<div style="position:absolute;left:0;top:244.5px;width:100%;height:1.2px;background:#55555a;"></div>
</div>
<div class="t b" style="top:1062.59px;font-size:18.2px;left:671.57px;transform-origin:0 0;transform:scaleX(1.0137);">Designation</div>
<div class="t b" style="top:1062.59px;font-size:18.2px;left:824.25px;transform-origin:0 0;transform:scaleX(1.0056);">Ordering no.</div>
<div class="t" style="top:1088.91px;font-size:17px;left:671.25px;transform-origin:0 0;transform:scaleX(1.1146);">F2-42/42-R</div>
<div class="t" style="top:1088.91px;font-size:17px;left:841.81px;transform-origin:0 0;transform:scaleX(1.0590);">378 4042</div>
<div class="t" style="top:1113.69px;font-size:17px;left:671.23px;transform-origin:0 0;transform:scaleX(1.1281);">F2-42/42-L</div>
<div class="t" style="top:1113.69px;font-size:17px;left:841.82px;transform-origin:0 0;transform:scaleX(1.0574);">378 4043</div>
<div class="t" style="top:1138.47px;font-size:17px;left:671.25px;transform-origin:0 0;transform:scaleX(1.1146);">F2-53/53-R</div>
<div class="t" style="top:1138.47px;font-size:17px;left:841.82px;transform-origin:0 0;transform:scaleX(1.0574);">378 1453</div>
<div class="t" style="top:1163.25px;font-size:17px;left:671.23px;transform-origin:0 0;transform:scaleX(1.1281);">F2-53/53-L</div>
<div class="t" style="top:1163.25px;font-size:17px;left:841.82px;transform-origin:0 0;transform:scaleX(1.0536);">378 1454</div>
<div class="t" style="top:1188.03px;font-size:17px;left:671.25px;transform-origin:0 0;transform:scaleX(1.1146);">F2-55/28-R</div>
<div class="t" style="top:1188.03px;font-size:17px;left:841.82px;transform-origin:0 0;transform:scaleX(1.0572);">378 4128</div>
<div class="t" style="top:1212.81px;font-size:17px;left:671.23px;transform-origin:0 0;transform:scaleX(1.1281);">F2-55/28-L</div>
<div class="t" style="top:1212.81px;font-size:17px;left:841.81px;transform-origin:0 0;transform:scaleX(1.0582);">378 4129</div>
<div class="t" style="top:1237.59px;font-size:17px;left:671.25px;transform-origin:0 0;transform:scaleX(1.1146);">F2-70/35-R</div>
<div class="t" style="top:1237.59px;font-size:17px;left:841.82px;transform-origin:0 0;transform:scaleX(1.0561);">378 1470</div>
<div class="t" style="top:1262.37px;font-size:17px;left:671.23px;transform-origin:0 0;transform:scaleX(1.1281);">F2-70/35-L</div>
<div class="t" style="top:1262.37px;font-size:17px;left:841.81px;transform-origin:0 0;transform:scaleX(1.0586);">378 1471</div>
<div class="t" style="top:1287.15px;font-size:17px;left:671.25px;transform-origin:0 0;transform:scaleX(1.1146);">F2-70/70-R</div>
<div class="t" style="top:1287.15px;font-size:17px;left:841.82px;transform-origin:0 0;transform:scaleX(1.0561);">378 4070</div>
<div class="t" style="top:1311.93px;font-size:17px;left:671.23px;transform-origin:0 0;transform:scaleX(1.1281);">F2-70/70-L</div>
<div class="t" style="top:1311.93px;font-size:17px;left:841.81px;transform-origin:0 0;transform:scaleX(1.0586);">378 4071</div>
<!-- FOOTER -->
<div class="rule" style="top:1353.2px;"></div>
<svg style="position:absolute;left:0;top:1360px;" width="200" height="60" viewBox="0 1360 200 60" font-family="Liberation Sans, sans-serif">
<rect x="54.9" y="1367.5" width="117.6" height="45.1" fill="#2b2d38"/>
<path d="M79.8 1381.3 H93.6 Q99.8 1381.3 99.8 1387.4 V1395.4 Q99.8 1401.5 93.6 1401.5 H88.9 V1405.6 H79.8 Z" fill="#fff"/>
<rect x="54.9" y="1389" width="35.4" height="5.7" fill="#fff"/>
<path d="M79.8 1388.5 H90.9 V1395.2 H79.8" fill="none" stroke="#2b2d38" stroke-width="0.7"/>
<path transform="matrix(0.01328 0 0 -0.01479 98.95 1405.3)" d="M393 -20Q236 -20 148.0 65.5Q60 151 60 306Q60 474 169.5 562.0Q279 650 487 652L720 656V711Q720 817 683.0 868.5Q646 920 562 920Q484 920 447.5 884.5Q411 849 402 767L109 781Q136 939 253.5 1020.5Q371 1102 574 1102Q779 1102 890.0 1001.0Q1001 900 1001 714V320Q1001 229 1021.5 194.5Q1042 160 1090 160Q1122 160 1152 166V14Q1127 8 1107.0 3.0Q1087 -2 1067.0 -5.0Q1047 -8 1024.5 -10.0Q1002 -12 972 -12Q866 -12 815.5 40.0Q765 92 755 193H749Q631 -20 393 -20ZM720 501 576 499Q478 495 437.0 477.5Q396 460 374.5 424.0Q353 388 353 328Q353 251 388.5 213.5Q424 176 483 176Q549 176 603.5 212.0Q658 248 689.0 311.5Q720 375 720 446Z" fill="#fff" stroke="#fff" stroke-width="78" stroke-linejoin="round"/>
<path transform="matrix(0.01759 0 0 -0.01479 113.78 1405.3)" d="M143 0V828Q143 917 140.5 976.5Q138 1036 135 1082H403Q406 1064 411.0 972.5Q416 881 416 851H420Q461 965 493.0 1011.5Q525 1058 569.0 1080.5Q613 1103 679 1103Q733 1103 766 1088V853Q698 868 646 868Q541 868 482.5 783.0Q424 698 424 531V0Z" fill="#fff" stroke="#fff" stroke-width="68" stroke-linejoin="round"/>
<path transform="matrix(0.01673 0 0 -0.01479 126.16 1405.3)" d="M834 0 545 490 424 406V0H143V1484H424V634L810 1082H1112L732 660L1141 0Z" fill="#fff" stroke="#fff" stroke-width="70" stroke-linejoin="round"/>
<path transform="matrix(0.01325 0 0 -0.01479 145.49 1405.3)" d="M586 -20Q342 -20 211.0 124.5Q80 269 80 546Q80 814 213.0 958.0Q346 1102 590 1102Q823 1102 946.0 947.5Q1069 793 1069 495V487H375Q375 329 433.5 248.5Q492 168 600 168Q749 168 788 297L1053 274Q938 -20 586 -20ZM586 925Q487 925 433.5 856.0Q380 787 377 663H797Q789 794 734.0 859.5Q679 925 586 925Z" fill="#fff" stroke="#fff" stroke-width="78" stroke-linejoin="round"/>
<path transform="matrix(0.01506 0 0 -0.01479 159.32 1405.3)" d="M143 0V828Q143 917 140.5 976.5Q138 1036 135 1082H403Q406 1064 411.0 972.5Q416 881 416 851H420Q461 965 493.0 1011.5Q525 1058 569.0 1080.5Q613 1103 679 1103Q733 1103 766 1088V853Q698 868 646 868Q541 868 482.5 783.0Q424 698 424 531V0Z" fill="#fff" stroke="#fff" stroke-width="74" stroke-linejoin="round"/>
</svg>
<div class="t" style="top:1371.50px;font-size:16.3px;left:507.15px;transform-origin:0 0;transform:scaleX(0.9433);">41</div>
<div class="t b" style="top:1366.75px;font-size:12.7px;left:768.18px;transform-origin:0 0;transform:scaleX(1.0831);">Parker Hannifin</div>
<div class="t" style="top:1381.05px;font-size:12.7px;left:767.99px;transform-origin:0 0;transform:scaleX(1.0608);">Pump &amp; Motor Division Europe</div>
<div class="t" style="top:1395.05px;font-size:12.7px;left:768.80px;transform-origin:0 0;transform:scaleX(1.0649);">Trollhättan, Sweden</div>
</body></html>
